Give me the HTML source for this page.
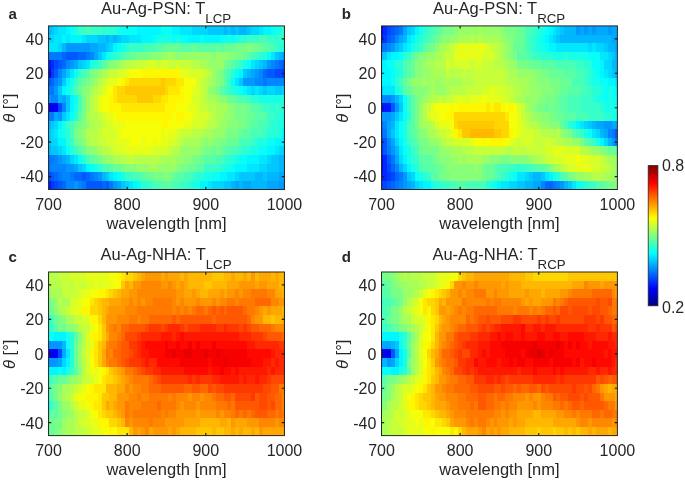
<!DOCTYPE html>
<html><head><meta charset="utf-8"><title>figure</title>
<style>
html,body{margin:0;padding:0;background:#fff;}
body{width:685px;height:481px;overflow:hidden;}
svg{display:block;font-family:"Liberation Sans",sans-serif;}
svg text{fill:#262626;}
svg{will-change:transform;}
.h rect{height:8.66px;}
</style></head><body>
<svg width="685" height="481" viewBox="0 0 685 481">
<g class="h" shape-rendering="crispEdges"><g transform="translate(0,25.90)"><rect x="48.55" width="2.02" fill="#00b7ff"/><rect x="50.52" width="3.98" fill="#00c7ff"/><rect x="54.45" width="3.98" fill="#00d7ff"/><rect x="58.38" width="7.91" fill="#00e7ff"/><rect x="66.24" width="3.98" fill="#00f7ff"/><rect x="70.17" width="3.98" fill="#08fff7"/><rect x="74.11" width="3.98" fill="#18ffe7"/><rect x="78.04" width="7.91" fill="#38ffc7"/><rect x="85.90" width="3.98" fill="#48ffb7"/><rect x="89.83" width="11.85" fill="#38ffc7"/><rect x="101.63" width="3.98" fill="#28ffd7"/><rect x="105.56" width="3.98" fill="#38ffc7"/><rect x="109.49" width="7.91" fill="#28ffd7"/><rect x="117.35" width="3.98" fill="#18ffe7"/><rect x="121.29" width="15.78" fill="#08fff7"/><rect x="137.01" width="23.64" fill="#00f7ff"/><rect x="160.60" width="11.84" fill="#08fff7"/><rect x="172.40" width="7.91" fill="#00f7ff"/><rect x="180.26" width="11.85" fill="#00e7ff"/><rect x="192.06" width="15.78" fill="#00d7ff"/><rect x="207.78" width="15.78" fill="#00c7ff"/><rect x="223.51" width="3.98" fill="#00b7ff"/><rect x="227.44" width="3.98" fill="#00c7ff"/><rect x="231.37" width="3.98" fill="#00b7ff"/><rect x="235.30" width="3.98" fill="#00c7ff"/><rect x="239.24" width="7.91" fill="#00b7ff"/><rect x="247.10" width="3.98" fill="#00c7ff"/><rect x="251.03" width="7.91" fill="#00d7ff"/><rect x="258.89" width="3.98" fill="#00e7ff"/><rect x="262.83" width="7.91" fill="#00f7ff"/><rect x="270.69" width="3.98" fill="#08fff7"/><rect x="274.62" width="7.91" fill="#18ffe7"/><rect x="282.48" width="2.02" fill="#38ffc7"/></g>
<g transform="translate(0,34.51)"><rect x="48.55" width="5.95" fill="#00d7ff"/><rect x="54.45" width="7.91" fill="#00e7ff"/><rect x="62.31" width="3.98" fill="#00f7ff"/><rect x="66.24" width="3.98" fill="#00e7ff"/><rect x="70.17" width="11.85" fill="#00f7ff"/><rect x="81.97" width="3.98" fill="#00e7ff"/><rect x="85.90" width="11.84" fill="#00d7ff"/><rect x="97.70" width="7.91" fill="#00c7ff"/><rect x="105.56" width="3.98" fill="#00b7ff"/><rect x="109.49" width="3.98" fill="#00c7ff"/><rect x="113.42" width="3.98" fill="#00b7ff"/><rect x="117.35" width="3.98" fill="#00c7ff"/><rect x="121.29" width="7.91" fill="#00d7ff"/><rect x="129.15" width="11.85" fill="#00e7ff"/><rect x="140.94" width="11.85" fill="#00f7ff"/><rect x="152.74" width="3.98" fill="#08fff7"/><rect x="156.67" width="15.78" fill="#18ffe7"/><rect x="172.40" width="3.98" fill="#08fff7"/><rect x="176.33" width="3.98" fill="#18ffe7"/><rect x="180.26" width="7.91" fill="#08fff7"/><rect x="188.12" width="11.85" fill="#00f7ff"/><rect x="199.92" width="3.98" fill="#08fff7"/><rect x="203.85" width="15.78" fill="#00f7ff"/><rect x="219.58" width="7.91" fill="#08fff7"/><rect x="227.44" width="3.98" fill="#18ffe7"/><rect x="231.37" width="3.98" fill="#08fff7"/><rect x="235.30" width="3.98" fill="#18ffe7"/><rect x="239.24" width="7.91" fill="#28ffd7"/><rect x="247.10" width="11.84" fill="#38ffc7"/><rect x="258.89" width="7.91" fill="#48ffb7"/><rect x="266.76" width="7.91" fill="#38ffc7"/><rect x="274.62" width="3.98" fill="#28ffd7"/><rect x="278.55" width="5.95" fill="#38ffc7"/></g>
<g transform="translate(0,43.12)"><rect x="48.55" width="9.88" fill="#00e7ff"/><rect x="58.38" width="3.98" fill="#00d7ff"/><rect x="62.31" width="3.98" fill="#00b7ff"/><rect x="66.24" width="23.64" fill="#0097ff"/><rect x="89.83" width="7.91" fill="#00a7ff"/><rect x="97.70" width="7.91" fill="#00b7ff"/><rect x="105.56" width="3.98" fill="#00c7ff"/><rect x="109.49" width="3.98" fill="#00d7ff"/><rect x="113.42" width="3.98" fill="#00f7ff"/><rect x="117.35" width="3.98" fill="#08fff7"/><rect x="121.29" width="3.98" fill="#18ffe7"/><rect x="125.22" width="3.98" fill="#28ffd7"/><rect x="129.15" width="15.78" fill="#38ffc7"/><rect x="144.88" width="11.85" fill="#48ffb7"/><rect x="156.67" width="7.91" fill="#58ffa7"/><rect x="164.53" width="15.78" fill="#68ff97"/><rect x="180.26" width="11.85" fill="#58ffa7"/><rect x="192.06" width="3.98" fill="#68ff97"/><rect x="195.99" width="19.71" fill="#58ffa7"/><rect x="215.65" width="3.98" fill="#68ff97"/><rect x="219.58" width="3.98" fill="#58ffa7"/><rect x="223.51" width="11.85" fill="#68ff97"/><rect x="235.30" width="11.85" fill="#78ff87"/><rect x="247.10" width="3.98" fill="#87ff78"/><rect x="251.03" width="7.91" fill="#78ff87"/><rect x="258.89" width="3.98" fill="#68ff97"/><rect x="262.83" width="7.91" fill="#58ffa7"/><rect x="270.69" width="3.98" fill="#48ffb7"/><rect x="274.62" width="3.98" fill="#38ffc7"/><rect x="278.55" width="3.98" fill="#28ffd7"/><rect x="282.48" width="2.02" fill="#18ffe7"/></g>
<g transform="translate(0,51.73)"><rect x="48.55" width="13.81" fill="#0078ff"/><rect x="62.31" width="3.98" fill="#0068ff"/><rect x="66.24" width="11.85" fill="#0058ff"/><rect x="78.04" width="7.91" fill="#0068ff"/><rect x="85.90" width="3.98" fill="#0078ff"/><rect x="89.83" width="3.98" fill="#0087ff"/><rect x="93.76" width="3.98" fill="#00a7ff"/><rect x="97.70" width="3.98" fill="#00c7ff"/><rect x="101.63" width="3.98" fill="#00e7ff"/><rect x="105.56" width="3.98" fill="#08fff7"/><rect x="109.49" width="3.98" fill="#18ffe7"/><rect x="113.42" width="3.98" fill="#28ffd7"/><rect x="117.35" width="3.98" fill="#38ffc7"/><rect x="121.29" width="3.98" fill="#48ffb7"/><rect x="125.22" width="3.98" fill="#58ffa7"/><rect x="129.15" width="7.91" fill="#68ff97"/><rect x="137.01" width="11.85" fill="#78ff87"/><rect x="148.81" width="11.84" fill="#87ff78"/><rect x="160.60" width="7.91" fill="#97ff68"/><rect x="168.47" width="3.98" fill="#a7ff58"/><rect x="172.40" width="3.98" fill="#97ff68"/><rect x="176.33" width="3.98" fill="#87ff78"/><rect x="180.26" width="31.50" fill="#97ff68"/><rect x="211.71" width="3.98" fill="#87ff78"/><rect x="215.65" width="11.85" fill="#97ff68"/><rect x="227.44" width="7.91" fill="#87ff78"/><rect x="235.30" width="7.91" fill="#78ff87"/><rect x="243.17" width="3.98" fill="#68ff97"/><rect x="247.10" width="3.98" fill="#58ffa7"/><rect x="251.03" width="3.98" fill="#48ffb7"/><rect x="254.96" width="3.98" fill="#38ffc7"/><rect x="258.89" width="7.91" fill="#28ffd7"/><rect x="266.76" width="3.98" fill="#08fff7"/><rect x="270.69" width="3.98" fill="#00e7ff"/><rect x="274.62" width="3.98" fill="#00c7ff"/><rect x="278.55" width="3.98" fill="#00b7ff"/><rect x="282.48" width="2.02" fill="#00a7ff"/></g>
<g transform="translate(0,60.34)"><rect x="48.55" width="2.02" fill="#0018ff"/><rect x="50.52" width="3.98" fill="#0028ff"/><rect x="54.45" width="3.98" fill="#0048ff"/><rect x="58.38" width="3.98" fill="#0058ff"/><rect x="62.31" width="3.98" fill="#0068ff"/><rect x="66.24" width="3.98" fill="#0087ff"/><rect x="70.17" width="3.98" fill="#0097ff"/><rect x="74.11" width="3.98" fill="#00a7ff"/><rect x="78.04" width="3.98" fill="#00c7ff"/><rect x="81.97" width="3.98" fill="#00d7ff"/><rect x="85.90" width="3.98" fill="#00e7ff"/><rect x="89.83" width="3.98" fill="#18ffe7"/><rect x="93.76" width="3.98" fill="#28ffd7"/><rect x="97.70" width="3.98" fill="#38ffc7"/><rect x="101.63" width="3.98" fill="#58ffa7"/><rect x="105.56" width="3.98" fill="#68ff97"/><rect x="109.49" width="7.91" fill="#87ff78"/><rect x="117.35" width="3.98" fill="#97ff68"/><rect x="121.29" width="3.98" fill="#a7ff58"/><rect x="125.22" width="7.91" fill="#b7ff48"/><rect x="133.08" width="11.85" fill="#c7ff38"/><rect x="144.88" width="11.85" fill="#d7ff28"/><rect x="156.67" width="3.98" fill="#c7ff38"/><rect x="160.60" width="7.91" fill="#d7ff28"/><rect x="168.47" width="7.91" fill="#c7ff38"/><rect x="176.33" width="3.98" fill="#d7ff28"/><rect x="180.26" width="11.85" fill="#c7ff38"/><rect x="192.06" width="7.91" fill="#b7ff48"/><rect x="199.92" width="7.91" fill="#a7ff58"/><rect x="207.78" width="15.78" fill="#97ff68"/><rect x="223.51" width="3.98" fill="#78ff87"/><rect x="227.44" width="3.98" fill="#68ff97"/><rect x="231.37" width="3.98" fill="#58ffa7"/><rect x="235.30" width="3.98" fill="#48ffb7"/><rect x="239.24" width="3.98" fill="#38ffc7"/><rect x="243.17" width="3.98" fill="#18ffe7"/><rect x="247.10" width="3.98" fill="#08fff7"/><rect x="251.03" width="3.98" fill="#00e7ff"/><rect x="254.96" width="3.98" fill="#00d7ff"/><rect x="258.89" width="3.98" fill="#00c7ff"/><rect x="262.83" width="3.98" fill="#00b7ff"/><rect x="266.76" width="3.98" fill="#0097ff"/><rect x="270.69" width="3.98" fill="#0087ff"/><rect x="274.62" width="3.98" fill="#0078ff"/><rect x="278.55" width="3.98" fill="#0068ff"/><rect x="282.48" width="2.02" fill="#0058ff"/></g>
<g transform="translate(0,68.95)"><rect x="48.55" width="2.02" fill="#0008ff"/><rect x="50.52" width="3.98" fill="#0038ff"/><rect x="54.45" width="3.98" fill="#0058ff"/><rect x="58.38" width="3.98" fill="#0087ff"/><rect x="62.31" width="3.98" fill="#00a7ff"/><rect x="66.24" width="3.98" fill="#00c7ff"/><rect x="70.17" width="3.98" fill="#00e7ff"/><rect x="74.11" width="3.98" fill="#08fff7"/><rect x="78.04" width="3.98" fill="#38ffc7"/><rect x="81.97" width="3.98" fill="#48ffb7"/><rect x="85.90" width="3.98" fill="#58ffa7"/><rect x="89.83" width="3.98" fill="#78ff87"/><rect x="93.76" width="3.98" fill="#87ff78"/><rect x="97.70" width="3.98" fill="#97ff68"/><rect x="101.63" width="3.98" fill="#a7ff58"/><rect x="105.56" width="3.98" fill="#b7ff48"/><rect x="109.49" width="7.91" fill="#c7ff38"/><rect x="117.35" width="7.91" fill="#d7ff28"/><rect x="125.22" width="3.98" fill="#e7ff18"/><rect x="129.15" width="11.85" fill="#f7ff08"/><rect x="140.94" width="39.37" fill="#fff700"/><rect x="180.26" width="7.91" fill="#e7ff18"/><rect x="188.12" width="15.78" fill="#d7ff28"/><rect x="203.85" width="3.98" fill="#c7ff38"/><rect x="207.78" width="3.98" fill="#b7ff48"/><rect x="211.71" width="3.98" fill="#97ff68"/><rect x="215.65" width="3.98" fill="#87ff78"/><rect x="219.58" width="3.98" fill="#78ff87"/><rect x="223.51" width="3.98" fill="#58ffa7"/><rect x="227.44" width="3.98" fill="#48ffb7"/><rect x="231.37" width="3.98" fill="#28ffd7"/><rect x="235.30" width="3.98" fill="#08fff7"/><rect x="239.24" width="3.98" fill="#00f7ff"/><rect x="243.17" width="3.98" fill="#00c7ff"/><rect x="247.10" width="3.98" fill="#00b7ff"/><rect x="251.03" width="3.98" fill="#00a7ff"/><rect x="254.96" width="3.98" fill="#0097ff"/><rect x="258.89" width="3.98" fill="#0087ff"/><rect x="262.83" width="3.98" fill="#0068ff"/><rect x="266.76" width="7.91" fill="#0058ff"/><rect x="274.62" width="7.91" fill="#0048ff"/><rect x="282.48" width="2.02" fill="#0038ff"/></g>
<g transform="translate(0,77.56)"><rect x="48.55" width="2.02" fill="#0058ff"/><rect x="50.52" width="3.98" fill="#0068ff"/><rect x="54.45" width="3.98" fill="#0087ff"/><rect x="58.38" width="3.98" fill="#0097ff"/><rect x="62.31" width="3.98" fill="#00c7ff"/><rect x="66.24" width="3.98" fill="#00f7ff"/><rect x="70.17" width="3.98" fill="#18ffe7"/><rect x="74.11" width="3.98" fill="#38ffc7"/><rect x="78.04" width="3.98" fill="#58ffa7"/><rect x="81.97" width="3.98" fill="#68ff97"/><rect x="85.90" width="3.98" fill="#78ff87"/><rect x="89.83" width="3.98" fill="#87ff78"/><rect x="93.76" width="3.98" fill="#97ff68"/><rect x="97.70" width="3.98" fill="#b7ff48"/><rect x="101.63" width="3.98" fill="#c7ff38"/><rect x="105.56" width="3.98" fill="#d7ff28"/><rect x="109.49" width="7.91" fill="#e7ff18"/><rect x="117.35" width="3.98" fill="#f7ff08"/><rect x="121.29" width="3.98" fill="#fff700"/><rect x="125.22" width="3.98" fill="#ffe700"/><rect x="129.15" width="31.50" fill="#ffd700"/><rect x="160.60" width="3.98" fill="#ffc700"/><rect x="164.53" width="11.84" fill="#ffd700"/><rect x="176.33" width="7.91" fill="#ffe700"/><rect x="184.19" width="11.85" fill="#f7ff08"/><rect x="195.99" width="3.98" fill="#d7ff28"/><rect x="199.92" width="3.98" fill="#c7ff38"/><rect x="203.85" width="3.98" fill="#b7ff48"/><rect x="207.78" width="3.98" fill="#a7ff58"/><rect x="211.71" width="3.98" fill="#97ff68"/><rect x="215.65" width="3.98" fill="#87ff78"/><rect x="219.58" width="3.98" fill="#78ff87"/><rect x="223.51" width="3.98" fill="#58ffa7"/><rect x="227.44" width="3.98" fill="#38ffc7"/><rect x="231.37" width="3.98" fill="#08fff7"/><rect x="235.30" width="3.98" fill="#00e7ff"/><rect x="239.24" width="3.98" fill="#00c7ff"/><rect x="243.17" width="11.84" fill="#0097ff"/><rect x="254.96" width="7.91" fill="#0087ff"/><rect x="262.83" width="3.98" fill="#0078ff"/><rect x="266.76" width="17.74" fill="#0087ff"/></g>
<g transform="translate(0,86.17)"><rect x="48.55" width="5.95" fill="#0078ff"/><rect x="54.45" width="3.98" fill="#0097ff"/><rect x="58.38" width="3.98" fill="#00c7ff"/><rect x="62.31" width="3.98" fill="#00f7ff"/><rect x="66.24" width="3.98" fill="#08fff7"/><rect x="70.17" width="3.98" fill="#28ffd7"/><rect x="74.11" width="3.98" fill="#48ffb7"/><rect x="78.04" width="3.98" fill="#68ff97"/><rect x="81.97" width="7.91" fill="#87ff78"/><rect x="89.83" width="3.98" fill="#a7ff58"/><rect x="93.76" width="3.98" fill="#b7ff48"/><rect x="97.70" width="3.98" fill="#c7ff38"/><rect x="101.63" width="3.98" fill="#d7ff28"/><rect x="105.56" width="7.91" fill="#f7ff08"/><rect x="113.42" width="3.98" fill="#ffe700"/><rect x="117.35" width="7.91" fill="#ffd700"/><rect x="125.22" width="39.37" fill="#ffc700"/><rect x="164.53" width="3.98" fill="#ffd700"/><rect x="168.47" width="11.84" fill="#ffe700"/><rect x="180.26" width="3.98" fill="#fff700"/><rect x="184.19" width="7.91" fill="#f7ff08"/><rect x="192.06" width="3.98" fill="#e7ff18"/><rect x="195.99" width="3.98" fill="#d7ff28"/><rect x="199.92" width="3.98" fill="#c7ff38"/><rect x="203.85" width="3.98" fill="#b7ff48"/><rect x="207.78" width="3.98" fill="#97ff68"/><rect x="211.71" width="3.98" fill="#87ff78"/><rect x="215.65" width="3.98" fill="#78ff87"/><rect x="219.58" width="3.98" fill="#58ffa7"/><rect x="223.51" width="3.98" fill="#48ffb7"/><rect x="227.44" width="3.98" fill="#38ffc7"/><rect x="231.37" width="3.98" fill="#28ffd7"/><rect x="235.30" width="3.98" fill="#18ffe7"/><rect x="239.24" width="3.98" fill="#08fff7"/><rect x="243.17" width="3.98" fill="#00f7ff"/><rect x="247.10" width="3.98" fill="#00e7ff"/><rect x="251.03" width="3.98" fill="#00d7ff"/><rect x="254.96" width="3.98" fill="#00e7ff"/><rect x="258.89" width="3.98" fill="#00d7ff"/><rect x="262.83" width="3.98" fill="#00c7ff"/><rect x="266.76" width="7.91" fill="#00d7ff"/><rect x="274.62" width="7.91" fill="#00c7ff"/><rect x="282.48" width="2.02" fill="#00d7ff"/></g>
<g transform="translate(0,94.78)"><rect x="48.55" width="2.02" fill="#0097ff"/><rect x="50.52" width="7.91" fill="#0087ff"/><rect x="58.38" width="3.98" fill="#00b7ff"/><rect x="62.31" width="3.98" fill="#00a7ff"/><rect x="66.24" width="3.98" fill="#00c7ff"/><rect x="70.17" width="3.98" fill="#00f7ff"/><rect x="74.11" width="3.98" fill="#08fff7"/><rect x="78.04" width="3.98" fill="#48ffb7"/><rect x="81.97" width="3.98" fill="#78ff87"/><rect x="85.90" width="3.98" fill="#97ff68"/><rect x="89.83" width="3.98" fill="#b7ff48"/><rect x="93.76" width="3.98" fill="#c7ff38"/><rect x="97.70" width="3.98" fill="#e7ff18"/><rect x="101.63" width="7.91" fill="#f7ff08"/><rect x="109.49" width="3.98" fill="#fff700"/><rect x="113.42" width="3.98" fill="#ffe700"/><rect x="117.35" width="19.71" fill="#ffd700"/><rect x="137.01" width="15.78" fill="#ffc700"/><rect x="152.74" width="7.91" fill="#ffd700"/><rect x="160.60" width="7.91" fill="#ffe700"/><rect x="168.47" width="15.78" fill="#fff700"/><rect x="184.19" width="7.91" fill="#f7ff08"/><rect x="192.06" width="7.91" fill="#d7ff28"/><rect x="199.92" width="3.98" fill="#c7ff38"/><rect x="203.85" width="3.98" fill="#b7ff48"/><rect x="207.78" width="7.91" fill="#a7ff58"/><rect x="215.65" width="3.98" fill="#97ff68"/><rect x="219.58" width="7.91" fill="#87ff78"/><rect x="227.44" width="7.91" fill="#68ff97"/><rect x="235.30" width="3.98" fill="#58ffa7"/><rect x="239.24" width="7.91" fill="#48ffb7"/><rect x="247.10" width="3.98" fill="#38ffc7"/><rect x="251.03" width="7.91" fill="#28ffd7"/><rect x="258.89" width="23.64" fill="#18ffe7"/><rect x="282.48" width="2.02" fill="#28ffd7"/></g>
<g transform="translate(0,103.39)"><rect x="48.55" width="9.88" fill="#0000f7"/><rect x="58.38" width="3.98" fill="#0048ff"/><rect x="62.31" width="3.98" fill="#0087ff"/><rect x="66.24" width="3.98" fill="#00c7ff"/><rect x="70.17" width="3.98" fill="#00f7ff"/><rect x="74.11" width="3.98" fill="#18ffe7"/><rect x="78.04" width="3.98" fill="#48ffb7"/><rect x="81.97" width="3.98" fill="#78ff87"/><rect x="85.90" width="3.98" fill="#97ff68"/><rect x="89.83" width="3.98" fill="#b7ff48"/><rect x="93.76" width="3.98" fill="#c7ff38"/><rect x="97.70" width="3.98" fill="#e7ff18"/><rect x="101.63" width="7.91" fill="#f7ff08"/><rect x="109.49" width="11.85" fill="#fff700"/><rect x="121.29" width="43.30" fill="#ffe700"/><rect x="164.53" width="11.84" fill="#fff700"/><rect x="176.33" width="11.85" fill="#f7ff08"/><rect x="188.12" width="7.91" fill="#e7ff18"/><rect x="195.99" width="3.98" fill="#d7ff28"/><rect x="199.92" width="7.91" fill="#c7ff38"/><rect x="207.78" width="7.91" fill="#b7ff48"/><rect x="215.65" width="11.85" fill="#a7ff58"/><rect x="227.44" width="3.98" fill="#97ff68"/><rect x="231.37" width="3.98" fill="#87ff78"/><rect x="235.30" width="11.85" fill="#78ff87"/><rect x="247.10" width="3.98" fill="#68ff97"/><rect x="251.03" width="7.91" fill="#58ffa7"/><rect x="258.89" width="3.98" fill="#48ffb7"/><rect x="262.83" width="7.91" fill="#38ffc7"/><rect x="270.69" width="3.98" fill="#28ffd7"/><rect x="274.62" width="3.98" fill="#38ffc7"/><rect x="278.55" width="5.95" fill="#28ffd7"/></g>
<g transform="translate(0,112.01)"><rect x="48.55" width="5.95" fill="#0078ff"/><rect x="54.45" width="3.98" fill="#00a7ff"/><rect x="58.38" width="3.98" fill="#0097ff"/><rect x="62.31" width="3.98" fill="#00c7ff"/><rect x="66.24" width="3.98" fill="#00e7ff"/><rect x="70.17" width="3.98" fill="#08fff7"/><rect x="74.11" width="3.98" fill="#28ffd7"/><rect x="78.04" width="3.98" fill="#58ffa7"/><rect x="81.97" width="3.98" fill="#78ff87"/><rect x="85.90" width="3.98" fill="#a7ff58"/><rect x="89.83" width="7.91" fill="#b7ff48"/><rect x="97.70" width="3.98" fill="#c7ff38"/><rect x="101.63" width="3.98" fill="#d7ff28"/><rect x="105.56" width="7.91" fill="#e7ff18"/><rect x="113.42" width="3.98" fill="#f7ff08"/><rect x="117.35" width="55.09" fill="#fff700"/><rect x="172.40" width="3.98" fill="#f7ff08"/><rect x="176.33" width="7.91" fill="#fff700"/><rect x="184.19" width="7.91" fill="#f7ff08"/><rect x="192.06" width="3.98" fill="#e7ff18"/><rect x="195.99" width="11.84" fill="#d7ff28"/><rect x="207.78" width="3.98" fill="#c7ff38"/><rect x="211.71" width="3.98" fill="#b7ff48"/><rect x="215.65" width="7.91" fill="#a7ff58"/><rect x="223.51" width="7.91" fill="#97ff68"/><rect x="231.37" width="3.98" fill="#87ff78"/><rect x="235.30" width="11.85" fill="#78ff87"/><rect x="247.10" width="7.91" fill="#68ff97"/><rect x="254.96" width="11.85" fill="#58ffa7"/><rect x="266.76" width="7.91" fill="#38ffc7"/><rect x="274.62" width="7.91" fill="#28ffd7"/><rect x="282.48" width="2.02" fill="#18ffe7"/></g>
<g transform="translate(0,120.62)"><rect x="48.55" width="2.02" fill="#00b7ff"/><rect x="50.52" width="3.98" fill="#00c7ff"/><rect x="54.45" width="3.98" fill="#00d7ff"/><rect x="58.38" width="3.98" fill="#00f7ff"/><rect x="62.31" width="3.98" fill="#18ffe7"/><rect x="66.24" width="3.98" fill="#38ffc7"/><rect x="70.17" width="3.98" fill="#48ffb7"/><rect x="74.11" width="3.98" fill="#68ff97"/><rect x="78.04" width="3.98" fill="#78ff87"/><rect x="81.97" width="3.98" fill="#87ff78"/><rect x="85.90" width="3.98" fill="#97ff68"/><rect x="89.83" width="3.98" fill="#a7ff58"/><rect x="93.76" width="7.91" fill="#b7ff48"/><rect x="101.63" width="3.98" fill="#c7ff38"/><rect x="105.56" width="7.91" fill="#d7ff28"/><rect x="113.42" width="11.85" fill="#e7ff18"/><rect x="125.22" width="35.43" fill="#f7ff08"/><rect x="160.60" width="7.91" fill="#fff700"/><rect x="168.47" width="15.78" fill="#f7ff08"/><rect x="184.19" width="7.91" fill="#e7ff18"/><rect x="192.06" width="11.85" fill="#d7ff28"/><rect x="203.85" width="3.98" fill="#c7ff38"/><rect x="207.78" width="7.91" fill="#b7ff48"/><rect x="215.65" width="3.98" fill="#a7ff58"/><rect x="219.58" width="7.91" fill="#97ff68"/><rect x="227.44" width="11.85" fill="#87ff78"/><rect x="239.24" width="7.91" fill="#78ff87"/><rect x="247.10" width="3.98" fill="#68ff97"/><rect x="251.03" width="7.91" fill="#58ffa7"/><rect x="258.89" width="7.91" fill="#48ffb7"/><rect x="266.76" width="3.98" fill="#38ffc7"/><rect x="270.69" width="7.91" fill="#28ffd7"/><rect x="278.55" width="5.95" fill="#18ffe7"/></g>
<g transform="translate(0,129.23)"><rect x="48.55" width="2.02" fill="#00c7ff"/><rect x="50.52" width="3.98" fill="#00d7ff"/><rect x="54.45" width="3.98" fill="#00e7ff"/><rect x="58.38" width="3.98" fill="#08fff7"/><rect x="62.31" width="3.98" fill="#18ffe7"/><rect x="66.24" width="3.98" fill="#28ffd7"/><rect x="70.17" width="3.98" fill="#48ffb7"/><rect x="74.11" width="3.98" fill="#78ff87"/><rect x="78.04" width="3.98" fill="#87ff78"/><rect x="81.97" width="3.98" fill="#97ff68"/><rect x="85.90" width="11.84" fill="#b7ff48"/><rect x="97.70" width="3.98" fill="#c7ff38"/><rect x="101.63" width="15.78" fill="#d7ff28"/><rect x="117.35" width="3.98" fill="#e7ff18"/><rect x="121.29" width="39.37" fill="#f7ff08"/><rect x="160.60" width="3.98" fill="#e7ff18"/><rect x="164.53" width="3.98" fill="#f7ff08"/><rect x="168.47" width="7.91" fill="#e7ff18"/><rect x="176.33" width="3.98" fill="#d7ff28"/><rect x="180.26" width="11.85" fill="#c7ff38"/><rect x="192.06" width="11.85" fill="#b7ff48"/><rect x="203.85" width="7.91" fill="#a7ff58"/><rect x="211.71" width="11.85" fill="#97ff68"/><rect x="223.51" width="3.98" fill="#87ff78"/><rect x="227.44" width="11.85" fill="#78ff87"/><rect x="239.24" width="3.98" fill="#68ff97"/><rect x="243.17" width="7.91" fill="#58ffa7"/><rect x="251.03" width="11.85" fill="#48ffb7"/><rect x="262.83" width="3.98" fill="#38ffc7"/><rect x="266.76" width="11.85" fill="#28ffd7"/><rect x="278.55" width="3.98" fill="#18ffe7"/><rect x="282.48" width="2.02" fill="#00f7ff"/></g>
<g transform="translate(0,137.84)"><rect x="48.55" width="2.02" fill="#00c7ff"/><rect x="50.52" width="7.91" fill="#00d7ff"/><rect x="58.38" width="7.91" fill="#00f7ff"/><rect x="66.24" width="3.98" fill="#28ffd7"/><rect x="70.17" width="3.98" fill="#38ffc7"/><rect x="74.11" width="3.98" fill="#68ff97"/><rect x="78.04" width="3.98" fill="#78ff87"/><rect x="81.97" width="3.98" fill="#87ff78"/><rect x="85.90" width="3.98" fill="#a7ff58"/><rect x="89.83" width="7.91" fill="#b7ff48"/><rect x="97.70" width="7.91" fill="#c7ff38"/><rect x="105.56" width="11.84" fill="#d7ff28"/><rect x="117.35" width="11.84" fill="#e7ff18"/><rect x="129.15" width="11.85" fill="#f7ff08"/><rect x="140.94" width="3.98" fill="#e7ff18"/><rect x="144.88" width="7.91" fill="#f7ff08"/><rect x="152.74" width="3.98" fill="#e7ff18"/><rect x="156.67" width="3.98" fill="#f7ff08"/><rect x="160.60" width="7.91" fill="#e7ff18"/><rect x="168.47" width="7.91" fill="#d7ff28"/><rect x="176.33" width="3.98" fill="#c7ff38"/><rect x="180.26" width="3.98" fill="#b7ff48"/><rect x="184.19" width="15.78" fill="#a7ff58"/><rect x="199.92" width="3.98" fill="#97ff68"/><rect x="203.85" width="3.98" fill="#87ff78"/><rect x="207.78" width="3.98" fill="#97ff68"/><rect x="211.71" width="7.91" fill="#87ff78"/><rect x="219.58" width="7.91" fill="#78ff87"/><rect x="227.44" width="11.85" fill="#68ff97"/><rect x="239.24" width="11.84" fill="#48ffb7"/><rect x="251.03" width="3.98" fill="#38ffc7"/><rect x="254.96" width="3.98" fill="#28ffd7"/><rect x="258.89" width="3.98" fill="#18ffe7"/><rect x="262.83" width="3.98" fill="#28ffd7"/><rect x="266.76" width="7.91" fill="#08fff7"/><rect x="274.62" width="9.88" fill="#00f7ff"/></g>
<g transform="translate(0,146.45)"><rect x="48.55" width="2.02" fill="#00b7ff"/><rect x="50.52" width="7.91" fill="#00c7ff"/><rect x="58.38" width="3.98" fill="#00d7ff"/><rect x="62.31" width="3.98" fill="#00e7ff"/><rect x="66.24" width="3.98" fill="#08fff7"/><rect x="70.17" width="3.98" fill="#28ffd7"/><rect x="74.11" width="3.98" fill="#38ffc7"/><rect x="78.04" width="3.98" fill="#58ffa7"/><rect x="81.97" width="3.98" fill="#68ff97"/><rect x="85.90" width="7.91" fill="#87ff78"/><rect x="93.76" width="3.98" fill="#97ff68"/><rect x="97.70" width="3.98" fill="#a7ff58"/><rect x="101.63" width="7.91" fill="#b7ff48"/><rect x="109.49" width="3.98" fill="#c7ff38"/><rect x="113.42" width="11.85" fill="#d7ff28"/><rect x="125.22" width="27.57" fill="#e7ff18"/><rect x="152.74" width="15.78" fill="#d7ff28"/><rect x="168.47" width="3.98" fill="#c7ff38"/><rect x="172.40" width="7.91" fill="#b7ff48"/><rect x="180.26" width="19.71" fill="#97ff68"/><rect x="199.92" width="3.98" fill="#87ff78"/><rect x="203.85" width="7.91" fill="#78ff87"/><rect x="211.71" width="3.98" fill="#68ff97"/><rect x="215.65" width="3.98" fill="#78ff87"/><rect x="219.58" width="3.98" fill="#68ff97"/><rect x="223.51" width="7.91" fill="#58ffa7"/><rect x="231.37" width="7.91" fill="#48ffb7"/><rect x="239.24" width="3.98" fill="#38ffc7"/><rect x="243.17" width="7.91" fill="#28ffd7"/><rect x="251.03" width="7.91" fill="#18ffe7"/><rect x="258.89" width="7.91" fill="#08fff7"/><rect x="266.76" width="7.91" fill="#00f7ff"/><rect x="274.62" width="3.98" fill="#00e7ff"/><rect x="278.55" width="5.95" fill="#00d7ff"/></g>
<g transform="translate(0,155.06)"><rect x="48.55" width="5.95" fill="#0078ff"/><rect x="54.45" width="3.98" fill="#0087ff"/><rect x="58.38" width="3.98" fill="#0097ff"/><rect x="62.31" width="3.98" fill="#00a7ff"/><rect x="66.24" width="3.98" fill="#00b7ff"/><rect x="70.17" width="3.98" fill="#00d7ff"/><rect x="74.11" width="3.98" fill="#00e7ff"/><rect x="78.04" width="3.98" fill="#08fff7"/><rect x="81.97" width="3.98" fill="#28ffd7"/><rect x="85.90" width="3.98" fill="#48ffb7"/><rect x="89.83" width="3.98" fill="#58ffa7"/><rect x="93.76" width="3.98" fill="#68ff97"/><rect x="97.70" width="3.98" fill="#78ff87"/><rect x="101.63" width="3.98" fill="#87ff78"/><rect x="105.56" width="7.91" fill="#97ff68"/><rect x="113.42" width="7.91" fill="#a7ff58"/><rect x="121.29" width="7.91" fill="#b7ff48"/><rect x="129.15" width="3.98" fill="#c7ff38"/><rect x="133.08" width="27.57" fill="#b7ff48"/><rect x="160.60" width="15.78" fill="#a7ff58"/><rect x="176.33" width="7.91" fill="#97ff68"/><rect x="184.19" width="7.91" fill="#87ff78"/><rect x="192.06" width="7.91" fill="#78ff87"/><rect x="199.92" width="3.98" fill="#68ff97"/><rect x="203.85" width="11.84" fill="#58ffa7"/><rect x="215.65" width="7.91" fill="#48ffb7"/><rect x="223.51" width="3.98" fill="#38ffc7"/><rect x="227.44" width="7.91" fill="#28ffd7"/><rect x="235.30" width="3.98" fill="#18ffe7"/><rect x="239.24" width="7.91" fill="#08fff7"/><rect x="247.10" width="11.84" fill="#00f7ff"/><rect x="258.89" width="7.91" fill="#00e7ff"/><rect x="266.76" width="3.98" fill="#00d7ff"/><rect x="270.69" width="7.91" fill="#00c7ff"/><rect x="278.55" width="5.95" fill="#00b7ff"/></g>
<g transform="translate(0,163.67)"><rect x="48.55" width="2.02" fill="#0078ff"/><rect x="50.52" width="15.78" fill="#0087ff"/><rect x="66.24" width="7.91" fill="#0097ff"/><rect x="74.11" width="3.98" fill="#00a7ff"/><rect x="78.04" width="3.98" fill="#00c7ff"/><rect x="81.97" width="3.98" fill="#00d7ff"/><rect x="85.90" width="3.98" fill="#00f7ff"/><rect x="89.83" width="3.98" fill="#08fff7"/><rect x="93.76" width="3.98" fill="#18ffe7"/><rect x="97.70" width="3.98" fill="#28ffd7"/><rect x="101.63" width="7.91" fill="#48ffb7"/><rect x="109.49" width="3.98" fill="#58ffa7"/><rect x="113.42" width="7.91" fill="#68ff97"/><rect x="121.29" width="3.98" fill="#78ff87"/><rect x="125.22" width="11.84" fill="#87ff78"/><rect x="137.01" width="11.85" fill="#97ff68"/><rect x="148.81" width="7.91" fill="#a7ff58"/><rect x="156.67" width="19.71" fill="#97ff68"/><rect x="176.33" width="3.98" fill="#87ff78"/><rect x="180.26" width="7.91" fill="#78ff87"/><rect x="188.12" width="7.91" fill="#68ff97"/><rect x="195.99" width="7.91" fill="#58ffa7"/><rect x="203.85" width="15.78" fill="#38ffc7"/><rect x="219.58" width="3.98" fill="#28ffd7"/><rect x="223.51" width="7.91" fill="#18ffe7"/><rect x="231.37" width="3.98" fill="#08fff7"/><rect x="235.30" width="11.85" fill="#00f7ff"/><rect x="247.10" width="11.84" fill="#00e7ff"/><rect x="258.89" width="7.91" fill="#00d7ff"/><rect x="266.76" width="11.85" fill="#00c7ff"/><rect x="278.55" width="5.95" fill="#00b7ff"/></g>
<g transform="translate(0,172.28)"><rect x="48.55" width="2.02" fill="#0048ff"/><rect x="50.52" width="3.98" fill="#0058ff"/><rect x="54.45" width="3.98" fill="#0068ff"/><rect x="58.38" width="3.98" fill="#0078ff"/><rect x="62.31" width="7.91" fill="#0087ff"/><rect x="70.17" width="3.98" fill="#0078ff"/><rect x="74.11" width="7.91" fill="#0068ff"/><rect x="81.97" width="3.98" fill="#0058ff"/><rect x="85.90" width="3.98" fill="#0068ff"/><rect x="89.83" width="3.98" fill="#0078ff"/><rect x="93.76" width="3.98" fill="#0087ff"/><rect x="97.70" width="3.98" fill="#0097ff"/><rect x="101.63" width="3.98" fill="#00b7ff"/><rect x="105.56" width="3.98" fill="#00c7ff"/><rect x="109.49" width="3.98" fill="#00e7ff"/><rect x="113.42" width="3.98" fill="#00f7ff"/><rect x="117.35" width="3.98" fill="#08fff7"/><rect x="121.29" width="3.98" fill="#18ffe7"/><rect x="125.22" width="7.91" fill="#38ffc7"/><rect x="133.08" width="7.91" fill="#48ffb7"/><rect x="140.94" width="3.98" fill="#58ffa7"/><rect x="144.88" width="7.91" fill="#68ff97"/><rect x="152.74" width="11.84" fill="#78ff87"/><rect x="164.53" width="3.98" fill="#87ff78"/><rect x="168.47" width="3.98" fill="#78ff87"/><rect x="172.40" width="3.98" fill="#68ff97"/><rect x="176.33" width="7.91" fill="#58ffa7"/><rect x="184.19" width="7.91" fill="#48ffb7"/><rect x="192.06" width="3.98" fill="#38ffc7"/><rect x="195.99" width="7.91" fill="#28ffd7"/><rect x="203.85" width="7.91" fill="#18ffe7"/><rect x="211.71" width="7.91" fill="#08fff7"/><rect x="219.58" width="7.91" fill="#00f7ff"/><rect x="227.44" width="7.91" fill="#00e7ff"/><rect x="235.30" width="3.98" fill="#00d7ff"/><rect x="239.24" width="15.78" fill="#00c7ff"/><rect x="254.96" width="7.91" fill="#00b7ff"/><rect x="262.83" width="3.98" fill="#00c7ff"/><rect x="266.76" width="11.85" fill="#00b7ff"/><rect x="278.55" width="5.95" fill="#00a7ff"/></g>
<g transform="translate(0,180.89)"><rect x="48.55" width="2.02" fill="#0018ff"/><rect x="50.52" width="3.98" fill="#0038ff"/><rect x="54.45" width="3.98" fill="#0048ff"/><rect x="58.38" width="3.98" fill="#0058ff"/><rect x="62.31" width="3.98" fill="#0068ff"/><rect x="66.24" width="7.91" fill="#0087ff"/><rect x="74.11" width="3.98" fill="#0097ff"/><rect x="78.04" width="3.98" fill="#0087ff"/><rect x="81.97" width="3.98" fill="#0078ff"/><rect x="85.90" width="15.78" fill="#0058ff"/><rect x="101.63" width="3.98" fill="#0068ff"/><rect x="105.56" width="3.98" fill="#0058ff"/><rect x="109.49" width="3.98" fill="#0078ff"/><rect x="113.42" width="3.98" fill="#0097ff"/><rect x="117.35" width="3.98" fill="#00a7ff"/><rect x="121.29" width="3.98" fill="#00c7ff"/><rect x="125.22" width="3.98" fill="#00d7ff"/><rect x="129.15" width="3.98" fill="#00e7ff"/><rect x="133.08" width="3.98" fill="#00f7ff"/><rect x="137.01" width="3.98" fill="#08fff7"/><rect x="140.94" width="7.91" fill="#28ffd7"/><rect x="148.81" width="3.98" fill="#38ffc7"/><rect x="152.74" width="7.91" fill="#48ffb7"/><rect x="160.60" width="11.84" fill="#58ffa7"/><rect x="172.40" width="7.91" fill="#48ffb7"/><rect x="180.26" width="7.91" fill="#38ffc7"/><rect x="188.12" width="3.98" fill="#28ffd7"/><rect x="192.06" width="7.91" fill="#18ffe7"/><rect x="199.92" width="7.91" fill="#00f7ff"/><rect x="207.78" width="3.98" fill="#00e7ff"/><rect x="211.71" width="11.85" fill="#00d7ff"/><rect x="223.51" width="7.91" fill="#00c7ff"/><rect x="231.37" width="3.98" fill="#00b7ff"/><rect x="235.30" width="3.98" fill="#00a7ff"/><rect x="239.24" width="3.98" fill="#00b7ff"/><rect x="243.17" width="7.91" fill="#00a7ff"/><rect x="251.03" width="15.78" fill="#00b7ff"/><rect x="266.76" width="11.85" fill="#00a7ff"/><rect x="278.55" width="5.95" fill="#0097ff"/></g></g>
<rect x="48.55" y="25.90" width="235.90" height="163.60" fill="none" stroke="#262626" stroke-width="1"/>
<path d="M127.18 189.50v-2.70M127.18 25.90v2.70M205.82 189.50v-2.70M205.82 25.90v2.70M48.55 38.82h2.70M284.45 38.82h-2.70M48.55 73.26h2.70M284.45 73.26h-2.70M48.55 107.70h2.70M284.45 107.70h-2.70M48.55 142.14h2.70M284.45 142.14h-2.70M48.55 176.58h2.70M284.45 176.58h-2.70" stroke="#1c1c1c" stroke-width="1.15" fill="none"/>
<text x="48.55" y="210.30" text-anchor="middle" font-size="16">700</text>
<text x="127.18" y="210.30" text-anchor="middle" font-size="16">800</text>
<text x="205.82" y="210.30" text-anchor="middle" font-size="16">900</text>
<text x="284.45" y="210.30" text-anchor="middle" font-size="16">1000</text>
<text x="43.35" y="44.72" text-anchor="end" font-size="16">40</text>
<text x="43.35" y="79.16" text-anchor="end" font-size="16">20</text>
<text x="43.35" y="113.60" text-anchor="end" font-size="16">0</text>
<text x="43.35" y="148.04" text-anchor="end" font-size="16">-20</text>
<text x="43.35" y="182.48" text-anchor="end" font-size="16">-40</text>
<text x="166.50" y="229.00" text-anchor="middle" font-size="16.5">wavelength [nm]</text>
<text transform="translate(14.95,108.20) rotate(-90)" text-anchor="middle" font-size="16.5"><tspan font-style="italic">θ</tspan> [°]</text>
<text x="166.10" y="13.60" text-anchor="middle" font-size="16.5">Au-Ag-PSN: T<tspan font-size="13.3" dy="9.4">LCP</tspan></text>
<text x="8.40" y="18.70" font-size="15" font-weight="bold">a</text>
<g class="h" shape-rendering="crispEdges"><g transform="translate(0,25.90)"><rect x="381.50" width="2.02" fill="#0008ff"/><rect x="383.47" width="3.98" fill="#0028ff"/><rect x="387.40" width="3.98" fill="#0048ff"/><rect x="391.33" width="3.98" fill="#0058ff"/><rect x="395.26" width="3.98" fill="#0068ff"/><rect x="399.19" width="3.98" fill="#0078ff"/><rect x="403.12" width="3.98" fill="#00a7ff"/><rect x="407.06" width="3.98" fill="#00c7ff"/><rect x="410.99" width="3.98" fill="#00d7ff"/><rect x="414.92" width="3.98" fill="#00f7ff"/><rect x="418.85" width="3.98" fill="#18ffe7"/><rect x="422.78" width="3.98" fill="#28ffd7"/><rect x="426.71" width="3.98" fill="#38ffc7"/><rect x="430.65" width="3.98" fill="#48ffb7"/><rect x="434.58" width="7.91" fill="#58ffa7"/><rect x="442.44" width="11.85" fill="#78ff87"/><rect x="454.24" width="3.98" fill="#87ff78"/><rect x="458.17" width="19.71" fill="#97ff68"/><rect x="477.83" width="3.98" fill="#a7ff58"/><rect x="481.76" width="19.71" fill="#97ff68"/><rect x="501.42" width="3.98" fill="#87ff78"/><rect x="505.35" width="11.85" fill="#78ff87"/><rect x="517.14" width="7.91" fill="#68ff97"/><rect x="525.01" width="7.91" fill="#48ffb7"/><rect x="532.87" width="3.98" fill="#38ffc7"/><rect x="536.80" width="3.98" fill="#28ffd7"/><rect x="540.73" width="3.98" fill="#18ffe7"/><rect x="544.66" width="3.98" fill="#08fff7"/><rect x="548.60" width="3.98" fill="#00f7ff"/><rect x="552.53" width="3.98" fill="#00e7ff"/><rect x="556.46" width="3.98" fill="#00d7ff"/><rect x="560.39" width="3.98" fill="#00c7ff"/><rect x="564.32" width="11.85" fill="#00b7ff"/><rect x="576.12" width="3.98" fill="#0097ff"/><rect x="580.05" width="3.98" fill="#00a7ff"/><rect x="583.98" width="3.98" fill="#0097ff"/><rect x="587.91" width="3.98" fill="#00a7ff"/><rect x="591.84" width="3.98" fill="#0097ff"/><rect x="595.78" width="11.84" fill="#00a7ff"/><rect x="607.57" width="3.98" fill="#0097ff"/><rect x="611.50" width="5.95" fill="#00a7ff"/></g>
<g transform="translate(0,34.51)"><rect x="381.50" width="2.02" fill="#0018ff"/><rect x="383.47" width="3.98" fill="#0038ff"/><rect x="387.40" width="3.98" fill="#0058ff"/><rect x="391.33" width="3.98" fill="#0068ff"/><rect x="395.26" width="3.98" fill="#0087ff"/><rect x="399.19" width="3.98" fill="#00a7ff"/><rect x="403.12" width="3.98" fill="#00b7ff"/><rect x="407.06" width="3.98" fill="#00e7ff"/><rect x="410.99" width="3.98" fill="#00f7ff"/><rect x="414.92" width="3.98" fill="#18ffe7"/><rect x="418.85" width="3.98" fill="#28ffd7"/><rect x="422.78" width="3.98" fill="#38ffc7"/><rect x="426.71" width="3.98" fill="#48ffb7"/><rect x="430.65" width="3.98" fill="#58ffa7"/><rect x="434.58" width="3.98" fill="#68ff97"/><rect x="438.51" width="3.98" fill="#78ff87"/><rect x="442.44" width="7.91" fill="#87ff78"/><rect x="450.30" width="7.91" fill="#97ff68"/><rect x="458.17" width="11.84" fill="#a7ff58"/><rect x="469.96" width="3.98" fill="#b7ff48"/><rect x="473.89" width="3.98" fill="#a7ff58"/><rect x="477.83" width="3.98" fill="#b7ff48"/><rect x="481.76" width="19.71" fill="#a7ff58"/><rect x="501.42" width="3.98" fill="#97ff68"/><rect x="505.35" width="7.91" fill="#87ff78"/><rect x="513.21" width="3.98" fill="#78ff87"/><rect x="517.14" width="7.91" fill="#68ff97"/><rect x="525.01" width="3.98" fill="#48ffb7"/><rect x="528.94" width="3.98" fill="#38ffc7"/><rect x="532.87" width="3.98" fill="#28ffd7"/><rect x="536.80" width="3.98" fill="#18ffe7"/><rect x="540.73" width="3.98" fill="#08fff7"/><rect x="544.66" width="3.98" fill="#00f7ff"/><rect x="548.60" width="3.98" fill="#00e7ff"/><rect x="552.53" width="3.98" fill="#00d7ff"/><rect x="556.46" width="3.98" fill="#00c7ff"/><rect x="560.39" width="51.16" fill="#00b7ff"/><rect x="611.50" width="5.95" fill="#00a7ff"/></g>
<g transform="translate(0,43.12)"><rect x="381.50" width="2.02" fill="#0068ff"/><rect x="383.47" width="3.98" fill="#0078ff"/><rect x="387.40" width="3.98" fill="#0087ff"/><rect x="391.33" width="3.98" fill="#0097ff"/><rect x="395.26" width="3.98" fill="#00b7ff"/><rect x="399.19" width="3.98" fill="#00c7ff"/><rect x="403.12" width="3.98" fill="#00e7ff"/><rect x="407.06" width="3.98" fill="#00f7ff"/><rect x="410.99" width="3.98" fill="#18ffe7"/><rect x="414.92" width="3.98" fill="#28ffd7"/><rect x="418.85" width="3.98" fill="#38ffc7"/><rect x="422.78" width="3.98" fill="#58ffa7"/><rect x="426.71" width="3.98" fill="#68ff97"/><rect x="430.65" width="3.98" fill="#78ff87"/><rect x="434.58" width="3.98" fill="#87ff78"/><rect x="438.51" width="7.91" fill="#a7ff58"/><rect x="446.37" width="3.98" fill="#b7ff48"/><rect x="450.30" width="3.98" fill="#c7ff38"/><rect x="454.24" width="3.98" fill="#d7ff28"/><rect x="458.17" width="27.57" fill="#e7ff18"/><rect x="485.69" width="3.98" fill="#d7ff28"/><rect x="489.62" width="7.91" fill="#c7ff38"/><rect x="497.48" width="3.98" fill="#b7ff48"/><rect x="501.42" width="3.98" fill="#a7ff58"/><rect x="505.35" width="3.98" fill="#97ff68"/><rect x="509.28" width="3.98" fill="#87ff78"/><rect x="513.21" width="11.85" fill="#68ff97"/><rect x="525.01" width="3.98" fill="#48ffb7"/><rect x="528.94" width="3.98" fill="#38ffc7"/><rect x="532.87" width="3.98" fill="#28ffd7"/><rect x="536.80" width="7.91" fill="#18ffe7"/><rect x="544.66" width="3.98" fill="#08fff7"/><rect x="548.60" width="7.91" fill="#00f7ff"/><rect x="556.46" width="31.50" fill="#00e7ff"/><rect x="587.91" width="3.98" fill="#00d7ff"/><rect x="591.84" width="3.98" fill="#00e7ff"/><rect x="595.78" width="7.91" fill="#00d7ff"/><rect x="603.64" width="3.98" fill="#00c7ff"/><rect x="607.57" width="7.91" fill="#00b7ff"/><rect x="615.43" width="2.02" fill="#00a7ff"/></g>
<g transform="translate(0,51.73)"><rect x="381.50" width="2.02" fill="#00b7ff"/><rect x="383.47" width="3.98" fill="#00c7ff"/><rect x="387.40" width="3.98" fill="#00e7ff"/><rect x="391.33" width="7.91" fill="#00f7ff"/><rect x="399.19" width="3.98" fill="#08fff7"/><rect x="403.12" width="3.98" fill="#28ffd7"/><rect x="407.06" width="3.98" fill="#38ffc7"/><rect x="410.99" width="3.98" fill="#58ffa7"/><rect x="414.92" width="3.98" fill="#68ff97"/><rect x="418.85" width="7.91" fill="#87ff78"/><rect x="426.71" width="7.91" fill="#97ff68"/><rect x="434.58" width="7.91" fill="#a7ff58"/><rect x="442.44" width="3.98" fill="#b7ff48"/><rect x="446.37" width="7.91" fill="#c7ff38"/><rect x="454.24" width="27.57" fill="#e7ff18"/><rect x="481.76" width="11.85" fill="#d7ff28"/><rect x="493.55" width="3.98" fill="#c7ff38"/><rect x="497.48" width="3.98" fill="#b7ff48"/><rect x="501.42" width="3.98" fill="#a7ff58"/><rect x="505.35" width="3.98" fill="#97ff68"/><rect x="509.28" width="3.98" fill="#87ff78"/><rect x="513.21" width="3.98" fill="#78ff87"/><rect x="517.14" width="11.84" fill="#58ffa7"/><rect x="528.94" width="3.98" fill="#48ffb7"/><rect x="532.87" width="7.91" fill="#38ffc7"/><rect x="540.73" width="11.85" fill="#28ffd7"/><rect x="552.53" width="11.84" fill="#18ffe7"/><rect x="564.32" width="3.98" fill="#28ffd7"/><rect x="568.25" width="19.71" fill="#18ffe7"/><rect x="587.91" width="11.84" fill="#08fff7"/><rect x="599.71" width="7.91" fill="#00e7ff"/><rect x="607.57" width="3.98" fill="#00d7ff"/><rect x="611.50" width="3.98" fill="#00c7ff"/><rect x="615.43" width="2.02" fill="#00b7ff"/></g>
<g transform="translate(0,60.34)"><rect x="381.50" width="2.02" fill="#00e7ff"/><rect x="383.47" width="3.98" fill="#00f7ff"/><rect x="387.40" width="7.91" fill="#08fff7"/><rect x="395.26" width="7.91" fill="#28ffd7"/><rect x="403.12" width="3.98" fill="#48ffb7"/><rect x="407.06" width="3.98" fill="#58ffa7"/><rect x="410.99" width="3.98" fill="#68ff97"/><rect x="414.92" width="7.91" fill="#87ff78"/><rect x="422.78" width="3.98" fill="#97ff68"/><rect x="426.71" width="7.91" fill="#a7ff58"/><rect x="434.58" width="11.85" fill="#b7ff48"/><rect x="446.37" width="3.98" fill="#d7ff28"/><rect x="450.30" width="3.98" fill="#c7ff38"/><rect x="454.24" width="15.78" fill="#d7ff28"/><rect x="469.96" width="3.98" fill="#c7ff38"/><rect x="473.89" width="7.91" fill="#d7ff28"/><rect x="481.76" width="11.85" fill="#c7ff38"/><rect x="493.55" width="11.84" fill="#b7ff48"/><rect x="505.35" width="3.98" fill="#a7ff58"/><rect x="509.28" width="7.91" fill="#97ff68"/><rect x="517.14" width="11.84" fill="#78ff87"/><rect x="528.94" width="11.84" fill="#68ff97"/><rect x="540.73" width="15.78" fill="#58ffa7"/><rect x="556.46" width="19.71" fill="#48ffb7"/><rect x="576.12" width="7.91" fill="#38ffc7"/><rect x="583.98" width="7.91" fill="#28ffd7"/><rect x="591.84" width="7.91" fill="#08fff7"/><rect x="599.71" width="3.98" fill="#00f7ff"/><rect x="603.64" width="7.91" fill="#00d7ff"/><rect x="611.50" width="5.95" fill="#00b7ff"/></g>
<g transform="translate(0,68.95)"><rect x="381.50" width="2.02" fill="#00e7ff"/><rect x="383.47" width="7.91" fill="#00f7ff"/><rect x="391.33" width="3.98" fill="#08fff7"/><rect x="395.26" width="3.98" fill="#18ffe7"/><rect x="399.19" width="3.98" fill="#28ffd7"/><rect x="403.12" width="3.98" fill="#48ffb7"/><rect x="407.06" width="3.98" fill="#58ffa7"/><rect x="410.99" width="3.98" fill="#68ff97"/><rect x="414.92" width="7.91" fill="#87ff78"/><rect x="422.78" width="7.91" fill="#97ff68"/><rect x="430.65" width="15.78" fill="#a7ff58"/><rect x="446.37" width="3.98" fill="#c7ff38"/><rect x="450.30" width="11.84" fill="#b7ff48"/><rect x="462.10" width="3.98" fill="#c7ff38"/><rect x="466.03" width="3.98" fill="#b7ff48"/><rect x="469.96" width="35.43" fill="#c7ff38"/><rect x="505.35" width="3.98" fill="#b7ff48"/><rect x="509.28" width="7.91" fill="#a7ff58"/><rect x="517.14" width="15.78" fill="#97ff68"/><rect x="532.87" width="7.91" fill="#87ff78"/><rect x="540.73" width="7.91" fill="#78ff87"/><rect x="548.60" width="15.78" fill="#68ff97"/><rect x="564.32" width="11.85" fill="#58ffa7"/><rect x="576.12" width="7.91" fill="#48ffb7"/><rect x="583.98" width="3.98" fill="#38ffc7"/><rect x="587.91" width="3.98" fill="#28ffd7"/><rect x="591.84" width="3.98" fill="#18ffe7"/><rect x="595.78" width="3.98" fill="#08fff7"/><rect x="599.71" width="3.98" fill="#00f7ff"/><rect x="603.64" width="3.98" fill="#00e7ff"/><rect x="607.57" width="3.98" fill="#00d7ff"/><rect x="611.50" width="3.98" fill="#00c7ff"/><rect x="615.43" width="2.02" fill="#00b7ff"/></g>
<g transform="translate(0,77.56)"><rect x="381.50" width="9.88" fill="#00f7ff"/><rect x="391.33" width="3.98" fill="#08fff7"/><rect x="395.26" width="3.98" fill="#28ffd7"/><rect x="399.19" width="3.98" fill="#48ffb7"/><rect x="403.12" width="3.98" fill="#58ffa7"/><rect x="407.06" width="3.98" fill="#78ff87"/><rect x="410.99" width="11.85" fill="#97ff68"/><rect x="422.78" width="3.98" fill="#a7ff58"/><rect x="426.71" width="3.98" fill="#97ff68"/><rect x="430.65" width="3.98" fill="#a7ff58"/><rect x="434.58" width="7.91" fill="#97ff68"/><rect x="442.44" width="19.71" fill="#a7ff58"/><rect x="462.10" width="11.85" fill="#b7ff48"/><rect x="473.89" width="31.50" fill="#c7ff38"/><rect x="505.35" width="11.85" fill="#b7ff48"/><rect x="517.14" width="11.84" fill="#a7ff58"/><rect x="528.94" width="7.91" fill="#97ff68"/><rect x="536.80" width="11.84" fill="#87ff78"/><rect x="548.60" width="11.85" fill="#78ff87"/><rect x="560.39" width="11.84" fill="#68ff97"/><rect x="572.19" width="11.84" fill="#48ffb7"/><rect x="583.98" width="3.98" fill="#38ffc7"/><rect x="587.91" width="3.98" fill="#28ffd7"/><rect x="591.84" width="7.91" fill="#18ffe7"/><rect x="599.71" width="7.91" fill="#08fff7"/><rect x="607.57" width="7.91" fill="#00f7ff"/><rect x="615.43" width="2.02" fill="#00e7ff"/></g>
<g transform="translate(0,86.17)"><rect x="381.50" width="2.02" fill="#00c7ff"/><rect x="383.47" width="11.85" fill="#00e7ff"/><rect x="395.26" width="3.98" fill="#18ffe7"/><rect x="399.19" width="3.98" fill="#28ffd7"/><rect x="403.12" width="3.98" fill="#58ffa7"/><rect x="407.06" width="3.98" fill="#68ff97"/><rect x="410.99" width="3.98" fill="#78ff87"/><rect x="414.92" width="11.84" fill="#87ff78"/><rect x="426.71" width="3.98" fill="#97ff68"/><rect x="430.65" width="3.98" fill="#a7ff58"/><rect x="434.58" width="11.85" fill="#97ff68"/><rect x="446.37" width="3.98" fill="#a7ff58"/><rect x="450.30" width="15.78" fill="#b7ff48"/><rect x="466.03" width="15.78" fill="#c7ff38"/><rect x="481.76" width="7.91" fill="#d7ff28"/><rect x="489.62" width="3.98" fill="#e7ff18"/><rect x="493.55" width="11.84" fill="#d7ff28"/><rect x="505.35" width="7.91" fill="#c7ff38"/><rect x="513.21" width="7.91" fill="#b7ff48"/><rect x="521.07" width="7.91" fill="#a7ff58"/><rect x="528.94" width="11.84" fill="#97ff68"/><rect x="540.73" width="11.85" fill="#87ff78"/><rect x="552.53" width="7.91" fill="#78ff87"/><rect x="560.39" width="7.91" fill="#68ff97"/><rect x="568.25" width="11.85" fill="#58ffa7"/><rect x="580.05" width="7.91" fill="#48ffb7"/><rect x="587.91" width="3.98" fill="#38ffc7"/><rect x="591.84" width="7.91" fill="#28ffd7"/><rect x="599.71" width="3.98" fill="#18ffe7"/><rect x="603.64" width="3.98" fill="#08fff7"/><rect x="607.57" width="3.98" fill="#18ffe7"/><rect x="611.50" width="3.98" fill="#08fff7"/><rect x="615.43" width="2.02" fill="#00f7ff"/></g>
<g transform="translate(0,94.78)"><rect x="381.50" width="9.88" fill="#0087ff"/><rect x="391.33" width="3.98" fill="#0097ff"/><rect x="395.26" width="3.98" fill="#00b7ff"/><rect x="399.19" width="3.98" fill="#00d7ff"/><rect x="403.12" width="3.98" fill="#08fff7"/><rect x="407.06" width="3.98" fill="#38ffc7"/><rect x="410.99" width="3.98" fill="#58ffa7"/><rect x="414.92" width="3.98" fill="#78ff87"/><rect x="418.85" width="3.98" fill="#87ff78"/><rect x="422.78" width="3.98" fill="#97ff68"/><rect x="426.71" width="3.98" fill="#a7ff58"/><rect x="430.65" width="7.91" fill="#b7ff48"/><rect x="438.51" width="3.98" fill="#c7ff38"/><rect x="442.44" width="3.98" fill="#b7ff48"/><rect x="446.37" width="7.91" fill="#c7ff38"/><rect x="454.24" width="3.98" fill="#d7ff28"/><rect x="458.17" width="3.98" fill="#e7ff18"/><rect x="462.10" width="7.91" fill="#d7ff28"/><rect x="469.96" width="11.85" fill="#e7ff18"/><rect x="481.76" width="3.98" fill="#f7ff08"/><rect x="485.69" width="15.78" fill="#e7ff18"/><rect x="501.42" width="7.91" fill="#d7ff28"/><rect x="509.28" width="3.98" fill="#c7ff38"/><rect x="513.21" width="3.98" fill="#b7ff48"/><rect x="517.14" width="7.91" fill="#a7ff58"/><rect x="525.01" width="11.84" fill="#97ff68"/><rect x="536.80" width="7.91" fill="#87ff78"/><rect x="544.66" width="11.84" fill="#78ff87"/><rect x="556.46" width="3.98" fill="#68ff97"/><rect x="560.39" width="7.91" fill="#58ffa7"/><rect x="568.25" width="11.85" fill="#48ffb7"/><rect x="580.05" width="11.84" fill="#38ffc7"/><rect x="591.84" width="3.98" fill="#28ffd7"/><rect x="595.78" width="7.91" fill="#18ffe7"/><rect x="603.64" width="3.98" fill="#08fff7"/><rect x="607.57" width="3.98" fill="#18ffe7"/><rect x="611.50" width="5.95" fill="#08fff7"/></g>
<g transform="translate(0,103.39)"><rect x="381.50" width="2.02" fill="#0008ff"/><rect x="383.47" width="7.91" fill="#0018ff"/><rect x="391.33" width="3.98" fill="#0058ff"/><rect x="395.26" width="3.98" fill="#0097ff"/><rect x="399.19" width="3.98" fill="#00c7ff"/><rect x="403.12" width="3.98" fill="#08fff7"/><rect x="407.06" width="3.98" fill="#38ffc7"/><rect x="410.99" width="3.98" fill="#58ffa7"/><rect x="414.92" width="3.98" fill="#78ff87"/><rect x="418.85" width="3.98" fill="#97ff68"/><rect x="422.78" width="3.98" fill="#b7ff48"/><rect x="426.71" width="3.98" fill="#c7ff38"/><rect x="430.65" width="3.98" fill="#e7ff18"/><rect x="434.58" width="15.78" fill="#f7ff08"/><rect x="450.30" width="3.98" fill="#fff700"/><rect x="454.24" width="3.98" fill="#f7ff08"/><rect x="458.17" width="27.57" fill="#fff700"/><rect x="485.69" width="3.98" fill="#ffe700"/><rect x="489.62" width="3.98" fill="#fff700"/><rect x="493.55" width="7.91" fill="#ffe700"/><rect x="501.42" width="3.98" fill="#fff700"/><rect x="505.35" width="3.98" fill="#f7ff08"/><rect x="509.28" width="3.98" fill="#fff700"/><rect x="513.21" width="3.98" fill="#f7ff08"/><rect x="517.14" width="3.98" fill="#d7ff28"/><rect x="521.07" width="3.98" fill="#c7ff38"/><rect x="525.01" width="3.98" fill="#a7ff58"/><rect x="528.94" width="3.98" fill="#97ff68"/><rect x="532.87" width="3.98" fill="#87ff78"/><rect x="536.80" width="7.91" fill="#78ff87"/><rect x="544.66" width="3.98" fill="#68ff97"/><rect x="548.60" width="3.98" fill="#78ff87"/><rect x="552.53" width="7.91" fill="#68ff97"/><rect x="560.39" width="7.91" fill="#58ffa7"/><rect x="568.25" width="11.85" fill="#48ffb7"/><rect x="580.05" width="19.71" fill="#38ffc7"/><rect x="599.71" width="3.98" fill="#28ffd7"/><rect x="603.64" width="13.81" fill="#18ffe7"/></g>
<g transform="translate(0,112.01)"><rect x="381.50" width="9.88" fill="#0097ff"/><rect x="391.33" width="3.98" fill="#00a7ff"/><rect x="395.26" width="3.98" fill="#00c7ff"/><rect x="399.19" width="3.98" fill="#00e7ff"/><rect x="403.12" width="3.98" fill="#08fff7"/><rect x="407.06" width="3.98" fill="#28ffd7"/><rect x="410.99" width="3.98" fill="#58ffa7"/><rect x="414.92" width="3.98" fill="#78ff87"/><rect x="418.85" width="3.98" fill="#97ff68"/><rect x="422.78" width="3.98" fill="#b7ff48"/><rect x="426.71" width="3.98" fill="#d7ff28"/><rect x="430.65" width="7.91" fill="#e7ff18"/><rect x="438.51" width="7.91" fill="#f7ff08"/><rect x="446.37" width="7.91" fill="#fff700"/><rect x="454.24" width="51.16" fill="#ffd700"/><rect x="505.35" width="3.98" fill="#ffe700"/><rect x="509.28" width="7.91" fill="#f7ff08"/><rect x="517.14" width="3.98" fill="#e7ff18"/><rect x="521.07" width="3.98" fill="#c7ff38"/><rect x="525.01" width="3.98" fill="#b7ff48"/><rect x="528.94" width="3.98" fill="#a7ff58"/><rect x="532.87" width="7.91" fill="#97ff68"/><rect x="540.73" width="7.91" fill="#87ff78"/><rect x="548.60" width="7.91" fill="#78ff87"/><rect x="556.46" width="7.91" fill="#68ff97"/><rect x="564.32" width="11.85" fill="#58ffa7"/><rect x="576.12" width="11.84" fill="#48ffb7"/><rect x="587.91" width="15.78" fill="#38ffc7"/><rect x="603.64" width="7.91" fill="#28ffd7"/><rect x="611.50" width="5.95" fill="#18ffe7"/></g>
<g transform="translate(0,120.62)"><rect x="381.50" width="2.02" fill="#0068ff"/><rect x="383.47" width="3.98" fill="#0087ff"/><rect x="387.40" width="3.98" fill="#00a7ff"/><rect x="391.33" width="3.98" fill="#00b7ff"/><rect x="395.26" width="3.98" fill="#00e7ff"/><rect x="399.19" width="3.98" fill="#08fff7"/><rect x="403.12" width="3.98" fill="#18ffe7"/><rect x="407.06" width="3.98" fill="#48ffb7"/><rect x="410.99" width="3.98" fill="#58ffa7"/><rect x="414.92" width="3.98" fill="#78ff87"/><rect x="418.85" width="3.98" fill="#97ff68"/><rect x="422.78" width="7.91" fill="#a7ff58"/><rect x="430.65" width="3.98" fill="#b7ff48"/><rect x="434.58" width="3.98" fill="#d7ff28"/><rect x="438.51" width="11.85" fill="#e7ff18"/><rect x="450.30" width="3.98" fill="#f7ff08"/><rect x="454.24" width="3.98" fill="#ffd700"/><rect x="458.17" width="35.43" fill="#ffc700"/><rect x="493.55" width="15.78" fill="#ffd700"/><rect x="509.28" width="7.91" fill="#f7ff08"/><rect x="517.14" width="3.98" fill="#e7ff18"/><rect x="521.07" width="3.98" fill="#d7ff28"/><rect x="525.01" width="3.98" fill="#c7ff38"/><rect x="528.94" width="7.91" fill="#b7ff48"/><rect x="536.80" width="3.98" fill="#a7ff58"/><rect x="540.73" width="7.91" fill="#97ff68"/><rect x="548.60" width="11.85" fill="#87ff78"/><rect x="560.39" width="3.98" fill="#68ff97"/><rect x="564.32" width="3.98" fill="#48ffb7"/><rect x="568.25" width="3.98" fill="#28ffd7"/><rect x="572.19" width="3.98" fill="#18ffe7"/><rect x="576.12" width="3.98" fill="#00f7ff"/><rect x="580.05" width="3.98" fill="#00e7ff"/><rect x="583.98" width="3.98" fill="#00d7ff"/><rect x="587.91" width="3.98" fill="#00c7ff"/><rect x="591.84" width="3.98" fill="#00b7ff"/><rect x="595.78" width="7.91" fill="#00a7ff"/><rect x="603.64" width="7.91" fill="#0097ff"/><rect x="611.50" width="5.95" fill="#00a7ff"/></g>
<g transform="translate(0,129.23)"><rect x="381.50" width="2.02" fill="#0058ff"/><rect x="383.47" width="3.98" fill="#0078ff"/><rect x="387.40" width="3.98" fill="#00a7ff"/><rect x="391.33" width="3.98" fill="#00c7ff"/><rect x="395.26" width="3.98" fill="#00e7ff"/><rect x="399.19" width="3.98" fill="#08fff7"/><rect x="403.12" width="3.98" fill="#18ffe7"/><rect x="407.06" width="3.98" fill="#48ffb7"/><rect x="410.99" width="3.98" fill="#58ffa7"/><rect x="414.92" width="3.98" fill="#68ff97"/><rect x="418.85" width="7.91" fill="#87ff78"/><rect x="426.71" width="7.91" fill="#a7ff58"/><rect x="434.58" width="3.98" fill="#b7ff48"/><rect x="438.51" width="7.91" fill="#c7ff38"/><rect x="446.37" width="3.98" fill="#d7ff28"/><rect x="450.30" width="3.98" fill="#e7ff18"/><rect x="454.24" width="3.98" fill="#fff700"/><rect x="458.17" width="3.98" fill="#ffe700"/><rect x="462.10" width="7.91" fill="#ffc700"/><rect x="469.96" width="23.64" fill="#ffb700"/><rect x="493.55" width="7.91" fill="#ffc700"/><rect x="501.42" width="7.91" fill="#ffd700"/><rect x="509.28" width="3.98" fill="#fff700"/><rect x="513.21" width="3.98" fill="#f7ff08"/><rect x="517.14" width="3.98" fill="#e7ff18"/><rect x="521.07" width="11.84" fill="#d7ff28"/><rect x="532.87" width="7.91" fill="#c7ff38"/><rect x="540.73" width="11.85" fill="#b7ff48"/><rect x="552.53" width="3.98" fill="#a7ff58"/><rect x="556.46" width="3.98" fill="#b7ff48"/><rect x="560.39" width="3.98" fill="#97ff68"/><rect x="564.32" width="3.98" fill="#87ff78"/><rect x="568.25" width="3.98" fill="#78ff87"/><rect x="572.19" width="3.98" fill="#58ffa7"/><rect x="576.12" width="3.98" fill="#48ffb7"/><rect x="580.05" width="3.98" fill="#38ffc7"/><rect x="583.98" width="3.98" fill="#18ffe7"/><rect x="587.91" width="3.98" fill="#08fff7"/><rect x="591.84" width="3.98" fill="#00e7ff"/><rect x="595.78" width="3.98" fill="#00d7ff"/><rect x="599.71" width="3.98" fill="#00b7ff"/><rect x="603.64" width="3.98" fill="#00a7ff"/><rect x="607.57" width="3.98" fill="#0087ff"/><rect x="611.50" width="3.98" fill="#0078ff"/><rect x="615.43" width="2.02" fill="#0058ff"/></g>
<g transform="translate(0,137.84)"><rect x="381.50" width="2.02" fill="#0038ff"/><rect x="383.47" width="3.98" fill="#0058ff"/><rect x="387.40" width="3.98" fill="#0087ff"/><rect x="391.33" width="3.98" fill="#00a7ff"/><rect x="395.26" width="3.98" fill="#00d7ff"/><rect x="399.19" width="3.98" fill="#00f7ff"/><rect x="403.12" width="3.98" fill="#18ffe7"/><rect x="407.06" width="3.98" fill="#38ffc7"/><rect x="410.99" width="3.98" fill="#48ffb7"/><rect x="414.92" width="3.98" fill="#58ffa7"/><rect x="418.85" width="7.91" fill="#78ff87"/><rect x="426.71" width="3.98" fill="#87ff78"/><rect x="430.65" width="7.91" fill="#97ff68"/><rect x="438.51" width="3.98" fill="#a7ff58"/><rect x="442.44" width="3.98" fill="#b7ff48"/><rect x="446.37" width="7.91" fill="#c7ff38"/><rect x="454.24" width="15.78" fill="#d7ff28"/><rect x="469.96" width="3.98" fill="#e7ff18"/><rect x="473.89" width="7.91" fill="#f7ff08"/><rect x="481.76" width="3.98" fill="#fff700"/><rect x="485.69" width="3.98" fill="#f7ff08"/><rect x="489.62" width="15.78" fill="#fff700"/><rect x="505.35" width="3.98" fill="#f7ff08"/><rect x="509.28" width="3.98" fill="#e7ff18"/><rect x="513.21" width="3.98" fill="#d7ff28"/><rect x="517.14" width="3.98" fill="#c7ff38"/><rect x="521.07" width="11.84" fill="#d7ff28"/><rect x="532.87" width="11.85" fill="#c7ff38"/><rect x="544.66" width="3.98" fill="#d7ff28"/><rect x="548.60" width="7.91" fill="#c7ff38"/><rect x="556.46" width="7.91" fill="#b7ff48"/><rect x="564.32" width="7.91" fill="#a7ff58"/><rect x="572.19" width="7.91" fill="#97ff68"/><rect x="580.05" width="3.98" fill="#78ff87"/><rect x="583.98" width="3.98" fill="#58ffa7"/><rect x="587.91" width="3.98" fill="#48ffb7"/><rect x="591.84" width="3.98" fill="#38ffc7"/><rect x="595.78" width="3.98" fill="#18ffe7"/><rect x="599.71" width="3.98" fill="#00f7ff"/><rect x="603.64" width="3.98" fill="#00d7ff"/><rect x="607.57" width="3.98" fill="#00b7ff"/><rect x="611.50" width="3.98" fill="#0097ff"/><rect x="615.43" width="2.02" fill="#0078ff"/></g>
<g transform="translate(0,146.45)"><rect x="381.50" width="2.02" fill="#0028ff"/><rect x="383.47" width="3.98" fill="#0058ff"/><rect x="387.40" width="3.98" fill="#0078ff"/><rect x="391.33" width="3.98" fill="#0097ff"/><rect x="395.26" width="3.98" fill="#00b7ff"/><rect x="399.19" width="3.98" fill="#00e7ff"/><rect x="403.12" width="3.98" fill="#08fff7"/><rect x="407.06" width="3.98" fill="#18ffe7"/><rect x="410.99" width="3.98" fill="#38ffc7"/><rect x="414.92" width="3.98" fill="#48ffb7"/><rect x="418.85" width="3.98" fill="#68ff97"/><rect x="422.78" width="15.78" fill="#78ff87"/><rect x="438.51" width="11.85" fill="#97ff68"/><rect x="450.30" width="11.84" fill="#a7ff58"/><rect x="462.10" width="11.85" fill="#b7ff48"/><rect x="473.89" width="31.50" fill="#c7ff38"/><rect x="505.35" width="7.91" fill="#b7ff48"/><rect x="513.21" width="7.91" fill="#c7ff38"/><rect x="521.07" width="3.98" fill="#b7ff48"/><rect x="525.01" width="19.71" fill="#c7ff38"/><rect x="544.66" width="7.91" fill="#d7ff28"/><rect x="552.53" width="11.84" fill="#e7ff18"/><rect x="564.32" width="15.78" fill="#d7ff28"/><rect x="580.05" width="7.91" fill="#b7ff48"/><rect x="587.91" width="3.98" fill="#a7ff58"/><rect x="591.84" width="7.91" fill="#97ff68"/><rect x="599.71" width="3.98" fill="#87ff78"/><rect x="603.64" width="3.98" fill="#78ff87"/><rect x="607.57" width="7.91" fill="#68ff97"/><rect x="615.43" width="2.02" fill="#58ffa7"/></g>
<g transform="translate(0,155.06)"><rect x="381.50" width="2.02" fill="#0008ff"/><rect x="383.47" width="3.98" fill="#0028ff"/><rect x="387.40" width="3.98" fill="#0058ff"/><rect x="391.33" width="3.98" fill="#0078ff"/><rect x="395.26" width="3.98" fill="#00a7ff"/><rect x="399.19" width="3.98" fill="#00d7ff"/><rect x="403.12" width="3.98" fill="#00f7ff"/><rect x="407.06" width="3.98" fill="#18ffe7"/><rect x="410.99" width="3.98" fill="#28ffd7"/><rect x="414.92" width="3.98" fill="#38ffc7"/><rect x="418.85" width="11.84" fill="#58ffa7"/><rect x="430.65" width="3.98" fill="#68ff97"/><rect x="434.58" width="3.98" fill="#78ff87"/><rect x="438.51" width="11.85" fill="#87ff78"/><rect x="450.30" width="7.91" fill="#97ff68"/><rect x="458.17" width="3.98" fill="#a7ff58"/><rect x="462.10" width="3.98" fill="#97ff68"/><rect x="466.03" width="15.78" fill="#a7ff58"/><rect x="481.76" width="7.91" fill="#97ff68"/><rect x="489.62" width="11.85" fill="#87ff78"/><rect x="501.42" width="7.91" fill="#78ff87"/><rect x="509.28" width="19.71" fill="#87ff78"/><rect x="528.94" width="3.98" fill="#97ff68"/><rect x="532.87" width="7.91" fill="#a7ff58"/><rect x="540.73" width="3.98" fill="#b7ff48"/><rect x="544.66" width="7.91" fill="#c7ff38"/><rect x="552.53" width="11.84" fill="#d7ff28"/><rect x="564.32" width="11.85" fill="#e7ff18"/><rect x="576.12" width="3.98" fill="#f7ff08"/><rect x="580.05" width="7.91" fill="#e7ff18"/><rect x="587.91" width="11.84" fill="#d7ff28"/><rect x="599.71" width="3.98" fill="#c7ff38"/><rect x="603.64" width="3.98" fill="#b7ff48"/><rect x="607.57" width="7.91" fill="#a7ff58"/><rect x="615.43" width="2.02" fill="#97ff68"/></g>
<g transform="translate(0,163.67)"><rect x="381.50" width="2.02" fill="#0000f7"/><rect x="383.47" width="3.98" fill="#0028ff"/><rect x="387.40" width="3.98" fill="#0048ff"/><rect x="391.33" width="3.98" fill="#0068ff"/><rect x="395.26" width="3.98" fill="#0087ff"/><rect x="399.19" width="3.98" fill="#00b7ff"/><rect x="403.12" width="3.98" fill="#00d7ff"/><rect x="407.06" width="3.98" fill="#00f7ff"/><rect x="410.99" width="3.98" fill="#18ffe7"/><rect x="414.92" width="3.98" fill="#28ffd7"/><rect x="418.85" width="3.98" fill="#48ffb7"/><rect x="422.78" width="11.84" fill="#58ffa7"/><rect x="434.58" width="7.91" fill="#68ff97"/><rect x="442.44" width="3.98" fill="#78ff87"/><rect x="446.37" width="27.57" fill="#87ff78"/><rect x="473.89" width="3.98" fill="#97ff68"/><rect x="477.83" width="3.98" fill="#87ff78"/><rect x="481.76" width="3.98" fill="#78ff87"/><rect x="485.69" width="7.91" fill="#68ff97"/><rect x="493.55" width="3.98" fill="#58ffa7"/><rect x="497.48" width="11.85" fill="#48ffb7"/><rect x="509.28" width="7.91" fill="#38ffc7"/><rect x="517.14" width="3.98" fill="#28ffd7"/><rect x="521.07" width="7.91" fill="#38ffc7"/><rect x="528.94" width="7.91" fill="#48ffb7"/><rect x="536.80" width="7.91" fill="#58ffa7"/><rect x="544.66" width="3.98" fill="#68ff97"/><rect x="548.60" width="3.98" fill="#87ff78"/><rect x="552.53" width="3.98" fill="#97ff68"/><rect x="556.46" width="3.98" fill="#a7ff58"/><rect x="560.39" width="3.98" fill="#b7ff48"/><rect x="564.32" width="3.98" fill="#c7ff38"/><rect x="568.25" width="7.91" fill="#d7ff28"/><rect x="576.12" width="15.78" fill="#e7ff18"/><rect x="591.84" width="7.91" fill="#d7ff28"/><rect x="599.71" width="7.91" fill="#c7ff38"/><rect x="607.57" width="3.98" fill="#b7ff48"/><rect x="611.50" width="3.98" fill="#a7ff58"/><rect x="615.43" width="2.02" fill="#97ff68"/></g>
<g transform="translate(0,172.28)"><rect x="381.50" width="2.02" fill="#0018ff"/><rect x="383.47" width="3.98" fill="#0028ff"/><rect x="387.40" width="3.98" fill="#0038ff"/><rect x="391.33" width="3.98" fill="#0048ff"/><rect x="395.26" width="3.98" fill="#0068ff"/><rect x="399.19" width="3.98" fill="#0078ff"/><rect x="403.12" width="3.98" fill="#0097ff"/><rect x="407.06" width="3.98" fill="#00c7ff"/><rect x="410.99" width="3.98" fill="#00d7ff"/><rect x="414.92" width="3.98" fill="#08fff7"/><rect x="418.85" width="3.98" fill="#18ffe7"/><rect x="422.78" width="3.98" fill="#28ffd7"/><rect x="426.71" width="3.98" fill="#38ffc7"/><rect x="430.65" width="7.91" fill="#58ffa7"/><rect x="438.51" width="11.85" fill="#78ff87"/><rect x="450.30" width="31.50" fill="#87ff78"/><rect x="481.76" width="3.98" fill="#78ff87"/><rect x="485.69" width="7.91" fill="#68ff97"/><rect x="493.55" width="3.98" fill="#58ffa7"/><rect x="497.48" width="3.98" fill="#48ffb7"/><rect x="501.42" width="3.98" fill="#38ffc7"/><rect x="505.35" width="3.98" fill="#28ffd7"/><rect x="509.28" width="3.98" fill="#18ffe7"/><rect x="513.21" width="3.98" fill="#08fff7"/><rect x="517.14" width="7.91" fill="#00e7ff"/><rect x="525.01" width="3.98" fill="#00d7ff"/><rect x="528.94" width="3.98" fill="#00c7ff"/><rect x="532.87" width="7.91" fill="#00b7ff"/><rect x="540.73" width="3.98" fill="#00c7ff"/><rect x="544.66" width="3.98" fill="#00e7ff"/><rect x="548.60" width="3.98" fill="#00f7ff"/><rect x="552.53" width="3.98" fill="#18ffe7"/><rect x="556.46" width="3.98" fill="#28ffd7"/><rect x="560.39" width="3.98" fill="#48ffb7"/><rect x="564.32" width="3.98" fill="#58ffa7"/><rect x="568.25" width="3.98" fill="#78ff87"/><rect x="572.19" width="3.98" fill="#87ff78"/><rect x="576.12" width="7.91" fill="#97ff68"/><rect x="583.98" width="7.91" fill="#a7ff58"/><rect x="591.84" width="11.84" fill="#b7ff48"/><rect x="603.64" width="7.91" fill="#a7ff58"/><rect x="611.50" width="5.95" fill="#97ff68"/></g>
<g transform="translate(0,180.89)"><rect x="381.50" width="2.02" fill="#0038ff"/><rect x="383.47" width="3.98" fill="#0048ff"/><rect x="387.40" width="3.98" fill="#0058ff"/><rect x="391.33" width="3.98" fill="#0068ff"/><rect x="395.26" width="3.98" fill="#0078ff"/><rect x="399.19" width="3.98" fill="#0087ff"/><rect x="403.12" width="3.98" fill="#0097ff"/><rect x="407.06" width="3.98" fill="#00a7ff"/><rect x="410.99" width="3.98" fill="#00b7ff"/><rect x="414.92" width="3.98" fill="#00d7ff"/><rect x="418.85" width="3.98" fill="#00e7ff"/><rect x="422.78" width="7.91" fill="#00f7ff"/><rect x="430.65" width="3.98" fill="#18ffe7"/><rect x="434.58" width="7.91" fill="#28ffd7"/><rect x="442.44" width="7.91" fill="#38ffc7"/><rect x="450.30" width="7.91" fill="#48ffb7"/><rect x="458.17" width="7.91" fill="#58ffa7"/><rect x="466.03" width="19.71" fill="#48ffb7"/><rect x="485.69" width="3.98" fill="#28ffd7"/><rect x="489.62" width="3.98" fill="#18ffe7"/><rect x="493.55" width="3.98" fill="#08fff7"/><rect x="497.48" width="3.98" fill="#00f7ff"/><rect x="501.42" width="7.91" fill="#00e7ff"/><rect x="509.28" width="7.91" fill="#00d7ff"/><rect x="517.14" width="7.91" fill="#00c7ff"/><rect x="525.01" width="7.91" fill="#00b7ff"/><rect x="532.87" width="7.91" fill="#00a7ff"/><rect x="540.73" width="3.98" fill="#0087ff"/><rect x="544.66" width="7.91" fill="#0068ff"/><rect x="552.53" width="3.98" fill="#0078ff"/><rect x="556.46" width="3.98" fill="#0087ff"/><rect x="560.39" width="3.98" fill="#0097ff"/><rect x="564.32" width="3.98" fill="#00b7ff"/><rect x="568.25" width="3.98" fill="#00c7ff"/><rect x="572.19" width="3.98" fill="#00e7ff"/><rect x="576.12" width="3.98" fill="#08fff7"/><rect x="580.05" width="3.98" fill="#18ffe7"/><rect x="583.98" width="3.98" fill="#28ffd7"/><rect x="587.91" width="7.91" fill="#38ffc7"/><rect x="595.78" width="7.91" fill="#58ffa7"/><rect x="603.64" width="3.98" fill="#68ff97"/><rect x="607.57" width="7.91" fill="#78ff87"/><rect x="615.43" width="2.02" fill="#87ff78"/></g></g>
<rect x="381.50" y="25.90" width="235.90" height="163.60" fill="none" stroke="#262626" stroke-width="1"/>
<path d="M460.13 189.50v-2.70M460.13 25.90v2.70M538.77 189.50v-2.70M538.77 25.90v2.70M381.50 38.82h2.70M617.40 38.82h-2.70M381.50 73.26h2.70M617.40 73.26h-2.70M381.50 107.70h2.70M617.40 107.70h-2.70M381.50 142.14h2.70M617.40 142.14h-2.70M381.50 176.58h2.70M617.40 176.58h-2.70" stroke="#1c1c1c" stroke-width="1.15" fill="none"/>
<text x="381.50" y="210.30" text-anchor="middle" font-size="16">700</text>
<text x="460.13" y="210.30" text-anchor="middle" font-size="16">800</text>
<text x="538.77" y="210.30" text-anchor="middle" font-size="16">900</text>
<text x="617.40" y="210.30" text-anchor="middle" font-size="16">1000</text>
<text x="376.30" y="44.72" text-anchor="end" font-size="16">40</text>
<text x="376.30" y="79.16" text-anchor="end" font-size="16">20</text>
<text x="376.30" y="113.60" text-anchor="end" font-size="16">0</text>
<text x="376.30" y="148.04" text-anchor="end" font-size="16">-20</text>
<text x="376.30" y="182.48" text-anchor="end" font-size="16">-40</text>
<text x="499.45" y="229.00" text-anchor="middle" font-size="16.5">wavelength [nm]</text>
<text transform="translate(347.90,108.20) rotate(-90)" text-anchor="middle" font-size="16.5"><tspan font-style="italic">θ</tspan> [°]</text>
<text x="499.05" y="13.60" text-anchor="middle" font-size="16.5">Au-Ag-PSN: T<tspan font-size="13.3" dy="9.4">RCP</tspan></text>
<text x="341.70" y="18.70" font-size="15" font-weight="bold">b</text>
<g class="h" shape-rendering="crispEdges"><g transform="translate(0,272.00)"><rect x="48.55" width="9.88" fill="#b7ff48"/><rect x="58.38" width="11.85" fill="#c7ff38"/><rect x="70.17" width="15.78" fill="#d7ff28"/><rect x="85.90" width="23.64" fill="#e7ff18"/><rect x="109.49" width="7.91" fill="#f7ff08"/><rect x="117.35" width="3.98" fill="#fff700"/><rect x="121.29" width="3.98" fill="#ffe700"/><rect x="125.22" width="7.91" fill="#ffd700"/><rect x="133.08" width="3.98" fill="#ffc700"/><rect x="137.01" width="3.98" fill="#ffb700"/><rect x="140.94" width="3.98" fill="#ffa700"/><rect x="144.88" width="15.78" fill="#ff9700"/><rect x="160.60" width="3.98" fill="#ffa700"/><rect x="164.53" width="3.98" fill="#ff9700"/><rect x="168.47" width="11.84" fill="#ffa700"/><rect x="180.26" width="3.98" fill="#ffb700"/><rect x="184.19" width="3.98" fill="#ffa700"/><rect x="188.12" width="23.64" fill="#ffb700"/><rect x="211.71" width="11.85" fill="#ffc700"/><rect x="223.51" width="7.91" fill="#ffb700"/><rect x="231.37" width="3.98" fill="#ffa700"/><rect x="235.30" width="7.91" fill="#ffb700"/><rect x="243.17" width="3.98" fill="#ffa700"/><rect x="247.10" width="3.98" fill="#ffb700"/><rect x="251.03" width="3.98" fill="#ff9700"/><rect x="254.96" width="3.98" fill="#ffb700"/><rect x="258.89" width="11.85" fill="#ffa700"/><rect x="270.69" width="3.98" fill="#ffb700"/><rect x="274.62" width="3.98" fill="#ffa700"/><rect x="278.55" width="5.95" fill="#ffb700"/></g>
<g transform="translate(0,280.61)"><rect x="48.55" width="2.02" fill="#a7ff58"/><rect x="50.52" width="11.85" fill="#b7ff48"/><rect x="62.31" width="7.91" fill="#c7ff38"/><rect x="70.17" width="3.98" fill="#b7ff48"/><rect x="74.11" width="3.98" fill="#d7ff28"/><rect x="78.04" width="7.91" fill="#c7ff38"/><rect x="85.90" width="7.91" fill="#d7ff28"/><rect x="93.76" width="3.98" fill="#e7ff18"/><rect x="97.70" width="3.98" fill="#d7ff28"/><rect x="101.63" width="11.85" fill="#e7ff18"/><rect x="113.42" width="7.91" fill="#f7ff08"/><rect x="121.29" width="3.98" fill="#ffc700"/><rect x="125.22" width="3.98" fill="#ffa700"/><rect x="129.15" width="3.98" fill="#ffb700"/><rect x="133.08" width="7.91" fill="#ff9700"/><rect x="140.94" width="19.71" fill="#ff8700"/><rect x="160.60" width="7.91" fill="#ff9700"/><rect x="168.47" width="3.98" fill="#ff8700"/><rect x="172.40" width="3.98" fill="#ff9700"/><rect x="176.33" width="3.98" fill="#ffa700"/><rect x="180.26" width="3.98" fill="#ff9700"/><rect x="184.19" width="3.98" fill="#ffa700"/><rect x="188.12" width="15.78" fill="#ffb700"/><rect x="203.85" width="7.91" fill="#ffc700"/><rect x="211.71" width="15.78" fill="#ffb700"/><rect x="227.44" width="11.85" fill="#ffa700"/><rect x="239.24" width="15.78" fill="#ff9700"/><rect x="254.96" width="3.98" fill="#ffa700"/><rect x="258.89" width="7.91" fill="#ff9700"/><rect x="266.76" width="11.85" fill="#ffa700"/><rect x="278.55" width="5.95" fill="#ffb700"/></g>
<g transform="translate(0,289.22)"><rect x="48.55" width="2.02" fill="#97ff68"/><rect x="50.52" width="11.85" fill="#a7ff58"/><rect x="62.31" width="15.78" fill="#c7ff38"/><rect x="78.04" width="3.98" fill="#d7ff28"/><rect x="81.97" width="7.91" fill="#e7ff18"/><rect x="89.83" width="7.91" fill="#f7ff08"/><rect x="97.70" width="7.91" fill="#fff700"/><rect x="105.56" width="3.98" fill="#ffe700"/><rect x="109.49" width="3.98" fill="#ffd700"/><rect x="113.42" width="3.98" fill="#ffc700"/><rect x="117.35" width="3.98" fill="#ffb700"/><rect x="121.29" width="7.91" fill="#ffa700"/><rect x="129.15" width="7.91" fill="#ff9700"/><rect x="137.01" width="39.37" fill="#ff8700"/><rect x="176.33" width="7.91" fill="#ff9700"/><rect x="184.19" width="7.91" fill="#ffa700"/><rect x="192.06" width="3.98" fill="#ff9700"/><rect x="195.99" width="3.98" fill="#ffa700"/><rect x="199.92" width="7.91" fill="#ffb700"/><rect x="207.78" width="11.85" fill="#ffa700"/><rect x="219.58" width="3.98" fill="#ff9700"/><rect x="223.51" width="3.98" fill="#ffa700"/><rect x="227.44" width="7.91" fill="#ff9700"/><rect x="235.30" width="3.98" fill="#ff8700"/><rect x="239.24" width="3.98" fill="#ff9700"/><rect x="243.17" width="7.91" fill="#ff8700"/><rect x="251.03" width="15.78" fill="#ff7800"/><rect x="266.76" width="7.91" fill="#ff8700"/><rect x="274.62" width="7.91" fill="#ffa700"/><rect x="282.48" width="2.02" fill="#ffb700"/></g>
<g transform="translate(0,297.83)"><rect x="48.55" width="2.02" fill="#68ff97"/><rect x="50.52" width="3.98" fill="#87ff78"/><rect x="54.45" width="3.98" fill="#97ff68"/><rect x="58.38" width="3.98" fill="#b7ff48"/><rect x="62.31" width="7.91" fill="#a7ff58"/><rect x="70.17" width="7.91" fill="#d7ff28"/><rect x="78.04" width="3.98" fill="#e7ff18"/><rect x="81.97" width="7.91" fill="#f7ff08"/><rect x="89.83" width="3.98" fill="#ffe700"/><rect x="93.76" width="3.98" fill="#ffd700"/><rect x="97.70" width="3.98" fill="#ffc700"/><rect x="101.63" width="7.91" fill="#ffb700"/><rect x="109.49" width="11.85" fill="#ffa700"/><rect x="121.29" width="7.91" fill="#ff9700"/><rect x="129.15" width="3.98" fill="#ff8700"/><rect x="133.08" width="3.98" fill="#ff9700"/><rect x="137.01" width="3.98" fill="#ff8700"/><rect x="140.94" width="3.98" fill="#ff9700"/><rect x="144.88" width="7.91" fill="#ff8700"/><rect x="152.74" width="19.71" fill="#ff7800"/><rect x="172.40" width="3.98" fill="#ff8700"/><rect x="176.33" width="3.98" fill="#ff9700"/><rect x="180.26" width="3.98" fill="#ff8700"/><rect x="184.19" width="11.85" fill="#ff9700"/><rect x="195.99" width="3.98" fill="#ff8700"/><rect x="199.92" width="11.84" fill="#ff9700"/><rect x="211.71" width="3.98" fill="#ff8700"/><rect x="215.65" width="3.98" fill="#ff9700"/><rect x="219.58" width="7.91" fill="#ff8700"/><rect x="227.44" width="7.91" fill="#ff7800"/><rect x="235.30" width="3.98" fill="#ff8700"/><rect x="239.24" width="15.78" fill="#ff7800"/><rect x="254.96" width="15.78" fill="#ff6800"/><rect x="270.69" width="7.91" fill="#ff8700"/><rect x="278.55" width="5.95" fill="#ff9700"/></g>
<g transform="translate(0,306.44)"><rect x="48.55" width="2.02" fill="#68ff97"/><rect x="50.52" width="3.98" fill="#78ff87"/><rect x="54.45" width="3.98" fill="#87ff78"/><rect x="58.38" width="3.98" fill="#a7ff58"/><rect x="62.31" width="3.98" fill="#b7ff48"/><rect x="66.24" width="3.98" fill="#c7ff38"/><rect x="70.17" width="3.98" fill="#d7ff28"/><rect x="74.11" width="7.91" fill="#e7ff18"/><rect x="81.97" width="7.91" fill="#fff700"/><rect x="89.83" width="7.91" fill="#ffd700"/><rect x="97.70" width="3.98" fill="#ffc700"/><rect x="101.63" width="3.98" fill="#ffb700"/><rect x="105.56" width="3.98" fill="#ffa700"/><rect x="109.49" width="15.78" fill="#ff9700"/><rect x="125.22" width="11.84" fill="#ff8700"/><rect x="137.01" width="35.43" fill="#ff7800"/><rect x="172.40" width="3.98" fill="#ff8700"/><rect x="176.33" width="3.98" fill="#ff7800"/><rect x="180.26" width="3.98" fill="#ff8700"/><rect x="184.19" width="3.98" fill="#ff7800"/><rect x="188.12" width="3.98" fill="#ff8700"/><rect x="192.06" width="3.98" fill="#ff7800"/><rect x="195.99" width="7.91" fill="#ff6800"/><rect x="203.85" width="3.98" fill="#ff7800"/><rect x="207.78" width="3.98" fill="#ff6800"/><rect x="211.71" width="3.98" fill="#ff5800"/><rect x="215.65" width="3.98" fill="#ff6800"/><rect x="219.58" width="3.98" fill="#ff5800"/><rect x="223.51" width="3.98" fill="#ff6800"/><rect x="227.44" width="15.78" fill="#ff5800"/><rect x="243.17" width="3.98" fill="#ff6800"/><rect x="247.10" width="7.91" fill="#ff7800"/><rect x="254.96" width="3.98" fill="#ff8700"/><rect x="258.89" width="3.98" fill="#ff9700"/><rect x="262.83" width="3.98" fill="#ffa700"/><rect x="266.76" width="3.98" fill="#ff9700"/><rect x="270.69" width="11.85" fill="#ffa700"/><rect x="282.48" width="2.02" fill="#ffb700"/></g>
<g transform="translate(0,315.05)"><rect x="48.55" width="2.02" fill="#28ffd7"/><rect x="50.52" width="3.98" fill="#48ffb7"/><rect x="54.45" width="3.98" fill="#68ff97"/><rect x="58.38" width="3.98" fill="#78ff87"/><rect x="62.31" width="3.98" fill="#87ff78"/><rect x="66.24" width="7.91" fill="#a7ff58"/><rect x="74.11" width="7.91" fill="#c7ff38"/><rect x="81.97" width="7.91" fill="#d7ff28"/><rect x="89.83" width="7.91" fill="#fff700"/><rect x="97.70" width="3.98" fill="#ffd700"/><rect x="101.63" width="3.98" fill="#ffb700"/><rect x="105.56" width="11.84" fill="#ff9700"/><rect x="117.35" width="11.84" fill="#ff8700"/><rect x="129.15" width="7.91" fill="#ff7800"/><rect x="137.01" width="3.98" fill="#ff8700"/><rect x="140.94" width="7.91" fill="#ff7800"/><rect x="148.81" width="23.64" fill="#ff6800"/><rect x="172.40" width="3.98" fill="#ff5800"/><rect x="176.33" width="3.98" fill="#ff6800"/><rect x="180.26" width="31.50" fill="#ff5800"/><rect x="211.71" width="3.98" fill="#ff6800"/><rect x="215.65" width="31.50" fill="#ff5800"/><rect x="247.10" width="3.98" fill="#ff6800"/><rect x="251.03" width="3.98" fill="#ff8700"/><rect x="254.96" width="7.91" fill="#ff9700"/><rect x="262.83" width="7.91" fill="#ffb700"/><rect x="270.69" width="3.98" fill="#ffc700"/><rect x="274.62" width="7.91" fill="#ffb700"/><rect x="282.48" width="2.02" fill="#ffa700"/></g>
<g transform="translate(0,323.66)"><rect x="48.55" width="2.02" fill="#28ffd7"/><rect x="50.52" width="3.98" fill="#38ffc7"/><rect x="54.45" width="3.98" fill="#58ffa7"/><rect x="58.38" width="3.98" fill="#78ff87"/><rect x="62.31" width="3.98" fill="#68ff97"/><rect x="66.24" width="7.91" fill="#87ff78"/><rect x="74.11" width="3.98" fill="#97ff68"/><rect x="78.04" width="3.98" fill="#b7ff48"/><rect x="81.97" width="7.91" fill="#c7ff38"/><rect x="89.83" width="3.98" fill="#e7ff18"/><rect x="93.76" width="3.98" fill="#f7ff08"/><rect x="97.70" width="3.98" fill="#ffe700"/><rect x="101.63" width="3.98" fill="#ffc700"/><rect x="105.56" width="3.98" fill="#ff9700"/><rect x="109.49" width="3.98" fill="#ff8700"/><rect x="113.42" width="3.98" fill="#ff7800"/><rect x="117.35" width="3.98" fill="#ff8700"/><rect x="121.29" width="7.91" fill="#ff6800"/><rect x="129.15" width="15.78" fill="#ff5800"/><rect x="144.88" width="3.98" fill="#ff4800"/><rect x="148.81" width="11.84" fill="#ff3800"/><rect x="160.60" width="3.98" fill="#ff4800"/><rect x="164.53" width="3.98" fill="#ff3800"/><rect x="168.47" width="11.84" fill="#ff2800"/><rect x="180.26" width="3.98" fill="#ff3800"/><rect x="184.19" width="3.98" fill="#ff4800"/><rect x="188.12" width="11.85" fill="#ff3800"/><rect x="199.92" width="15.78" fill="#ff2800"/><rect x="215.65" width="7.91" fill="#ff3800"/><rect x="223.51" width="3.98" fill="#ff2800"/><rect x="227.44" width="11.85" fill="#ff3800"/><rect x="239.24" width="3.98" fill="#ff4800"/><rect x="243.17" width="3.98" fill="#ff3800"/><rect x="247.10" width="3.98" fill="#ff4800"/><rect x="251.03" width="7.91" fill="#ff5800"/><rect x="258.89" width="11.85" fill="#ff6800"/><rect x="270.69" width="3.98" fill="#ff7800"/><rect x="274.62" width="9.88" fill="#ff8700"/></g>
<g transform="translate(0,332.27)"><rect x="48.55" width="5.95" fill="#08fff7"/><rect x="54.45" width="11.84" fill="#00f7ff"/><rect x="66.24" width="3.98" fill="#18ffe7"/><rect x="70.17" width="3.98" fill="#28ffd7"/><rect x="74.11" width="3.98" fill="#58ffa7"/><rect x="78.04" width="3.98" fill="#87ff78"/><rect x="81.97" width="3.98" fill="#b7ff48"/><rect x="85.90" width="3.98" fill="#d7ff28"/><rect x="89.83" width="7.91" fill="#fff700"/><rect x="97.70" width="3.98" fill="#ffe700"/><rect x="101.63" width="3.98" fill="#ffc700"/><rect x="105.56" width="3.98" fill="#ffa700"/><rect x="109.49" width="7.91" fill="#ff8700"/><rect x="117.35" width="3.98" fill="#ff7800"/><rect x="121.29" width="3.98" fill="#ff6800"/><rect x="125.22" width="11.84" fill="#ff4800"/><rect x="137.01" width="3.98" fill="#ff3800"/><rect x="140.94" width="19.71" fill="#ff2800"/><rect x="160.60" width="11.84" fill="#ff1800"/><rect x="172.40" width="3.98" fill="#ff2800"/><rect x="176.33" width="3.98" fill="#ff1800"/><rect x="180.26" width="3.98" fill="#ff0800"/><rect x="184.19" width="55.09" fill="#ff1800"/><rect x="239.24" width="11.84" fill="#ff2800"/><rect x="251.03" width="11.85" fill="#ff3800"/><rect x="262.83" width="3.98" fill="#ff4800"/><rect x="266.76" width="15.78" fill="#ff5800"/><rect x="282.48" width="2.02" fill="#ff6800"/></g>
<g transform="translate(0,340.88)"><rect x="48.55" width="13.81" fill="#0097ff"/><rect x="62.31" width="3.98" fill="#00b7ff"/><rect x="66.24" width="3.98" fill="#08fff7"/><rect x="70.17" width="3.98" fill="#28ffd7"/><rect x="74.11" width="3.98" fill="#68ff97"/><rect x="78.04" width="3.98" fill="#97ff68"/><rect x="81.97" width="3.98" fill="#b7ff48"/><rect x="85.90" width="3.98" fill="#d7ff28"/><rect x="89.83" width="3.98" fill="#e7ff18"/><rect x="93.76" width="3.98" fill="#ffe700"/><rect x="97.70" width="3.98" fill="#ffc700"/><rect x="101.63" width="3.98" fill="#ffb700"/><rect x="105.56" width="3.98" fill="#ff8700"/><rect x="109.49" width="7.91" fill="#ff7800"/><rect x="117.35" width="3.98" fill="#ff6800"/><rect x="121.29" width="7.91" fill="#ff5800"/><rect x="129.15" width="7.91" fill="#ff3800"/><rect x="137.01" width="3.98" fill="#ff2800"/><rect x="140.94" width="3.98" fill="#ff1800"/><rect x="144.88" width="19.71" fill="#ff0800"/><rect x="164.53" width="3.98" fill="#f70000"/><rect x="168.47" width="7.91" fill="#ff0800"/><rect x="176.33" width="3.98" fill="#f70000"/><rect x="180.26" width="7.91" fill="#ff0800"/><rect x="188.12" width="3.98" fill="#f70000"/><rect x="192.06" width="3.98" fill="#ff0800"/><rect x="195.99" width="3.98" fill="#f70000"/><rect x="199.92" width="11.84" fill="#ff0800"/><rect x="211.71" width="3.98" fill="#f70000"/><rect x="215.65" width="31.50" fill="#ff0800"/><rect x="247.10" width="7.91" fill="#ff1800"/><rect x="254.96" width="23.64" fill="#ff2800"/><rect x="278.55" width="5.95" fill="#ff3800"/></g>
<g transform="translate(0,349.49)"><rect x="48.55" width="9.88" fill="#0000f7"/><rect x="58.38" width="3.98" fill="#0048ff"/><rect x="62.31" width="3.98" fill="#00a7ff"/><rect x="66.24" width="3.98" fill="#00e7ff"/><rect x="70.17" width="3.98" fill="#28ffd7"/><rect x="74.11" width="3.98" fill="#68ff97"/><rect x="78.04" width="3.98" fill="#97ff68"/><rect x="81.97" width="3.98" fill="#c7ff38"/><rect x="85.90" width="3.98" fill="#d7ff28"/><rect x="89.83" width="3.98" fill="#fff700"/><rect x="93.76" width="3.98" fill="#ffe700"/><rect x="97.70" width="3.98" fill="#ffc700"/><rect x="101.63" width="3.98" fill="#ffa700"/><rect x="105.56" width="3.98" fill="#ff7800"/><rect x="109.49" width="3.98" fill="#ff8700"/><rect x="113.42" width="7.91" fill="#ff6800"/><rect x="121.29" width="7.91" fill="#ff5800"/><rect x="129.15" width="3.98" fill="#ff4800"/><rect x="133.08" width="3.98" fill="#ff3800"/><rect x="137.01" width="3.98" fill="#ff2800"/><rect x="140.94" width="7.91" fill="#ff1800"/><rect x="148.81" width="15.78" fill="#ff0800"/><rect x="164.53" width="7.91" fill="#f70000"/><rect x="172.40" width="3.98" fill="#e70000"/><rect x="176.33" width="7.91" fill="#f70000"/><rect x="184.19" width="7.91" fill="#e70000"/><rect x="192.06" width="11.85" fill="#f70000"/><rect x="203.85" width="3.98" fill="#e70000"/><rect x="207.78" width="7.91" fill="#f70000"/><rect x="215.65" width="3.98" fill="#e70000"/><rect x="219.58" width="27.57" fill="#f70000"/><rect x="247.10" width="23.64" fill="#ff0800"/><rect x="270.69" width="3.98" fill="#ff1800"/><rect x="274.62" width="9.88" fill="#ff2800"/></g>
<g transform="translate(0,358.11)"><rect x="48.55" width="9.88" fill="#0097ff"/><rect x="58.38" width="3.98" fill="#00a7ff"/><rect x="62.31" width="3.98" fill="#00d7ff"/><rect x="66.24" width="3.98" fill="#00f7ff"/><rect x="70.17" width="3.98" fill="#28ffd7"/><rect x="74.11" width="3.98" fill="#68ff97"/><rect x="78.04" width="3.98" fill="#97ff68"/><rect x="81.97" width="3.98" fill="#b7ff48"/><rect x="85.90" width="3.98" fill="#d7ff28"/><rect x="89.83" width="3.98" fill="#f7ff08"/><rect x="93.76" width="3.98" fill="#ffe700"/><rect x="97.70" width="3.98" fill="#ffc700"/><rect x="101.63" width="3.98" fill="#ffa700"/><rect x="105.56" width="3.98" fill="#ff8700"/><rect x="109.49" width="7.91" fill="#ff7800"/><rect x="117.35" width="3.98" fill="#ff6800"/><rect x="121.29" width="3.98" fill="#ff5800"/><rect x="125.22" width="3.98" fill="#ff4800"/><rect x="129.15" width="11.85" fill="#ff3800"/><rect x="140.94" width="3.98" fill="#ff2800"/><rect x="144.88" width="3.98" fill="#ff1800"/><rect x="148.81" width="7.91" fill="#ff2800"/><rect x="156.67" width="23.64" fill="#ff0800"/><rect x="180.26" width="27.57" fill="#f70000"/><rect x="207.78" width="3.98" fill="#ff0800"/><rect x="211.71" width="11.85" fill="#f70000"/><rect x="223.51" width="3.98" fill="#e70000"/><rect x="227.44" width="23.64" fill="#f70000"/><rect x="251.03" width="11.85" fill="#ff0800"/><rect x="262.83" width="7.91" fill="#ff1800"/><rect x="270.69" width="3.98" fill="#ff2800"/><rect x="274.62" width="3.98" fill="#ff1800"/><rect x="278.55" width="5.95" fill="#ff2800"/></g>
<g transform="translate(0,366.72)"><rect x="48.55" width="9.88" fill="#00f7ff"/><rect x="58.38" width="3.98" fill="#08fff7"/><rect x="62.31" width="3.98" fill="#00f7ff"/><rect x="66.24" width="3.98" fill="#18ffe7"/><rect x="70.17" width="3.98" fill="#38ffc7"/><rect x="74.11" width="3.98" fill="#58ffa7"/><rect x="78.04" width="3.98" fill="#87ff78"/><rect x="81.97" width="3.98" fill="#b7ff48"/><rect x="85.90" width="3.98" fill="#d7ff28"/><rect x="89.83" width="3.98" fill="#f7ff08"/><rect x="93.76" width="3.98" fill="#e7ff18"/><rect x="97.70" width="3.98" fill="#f7ff08"/><rect x="101.63" width="3.98" fill="#fff700"/><rect x="105.56" width="3.98" fill="#ffe700"/><rect x="109.49" width="3.98" fill="#ffc700"/><rect x="113.42" width="3.98" fill="#ffb700"/><rect x="117.35" width="3.98" fill="#ffa700"/><rect x="121.29" width="3.98" fill="#ff9700"/><rect x="125.22" width="7.91" fill="#ff7800"/><rect x="133.08" width="3.98" fill="#ff6800"/><rect x="137.01" width="3.98" fill="#ff5800"/><rect x="140.94" width="3.98" fill="#ff4800"/><rect x="144.88" width="7.91" fill="#ff3800"/><rect x="152.74" width="7.91" fill="#ff2800"/><rect x="160.60" width="23.64" fill="#ff1800"/><rect x="184.19" width="23.64" fill="#ff0800"/><rect x="207.78" width="3.98" fill="#ff1800"/><rect x="211.71" width="7.91" fill="#ff0800"/><rect x="219.58" width="3.98" fill="#f70000"/><rect x="223.51" width="7.91" fill="#ff0800"/><rect x="231.37" width="3.98" fill="#ff1800"/><rect x="235.30" width="3.98" fill="#ff0800"/><rect x="239.24" width="27.57" fill="#ff1800"/><rect x="266.76" width="3.98" fill="#ff2800"/><rect x="270.69" width="3.98" fill="#ff1800"/><rect x="274.62" width="9.88" fill="#ff2800"/></g>
<g transform="translate(0,375.33)"><rect x="48.55" width="2.02" fill="#38ffc7"/><rect x="50.52" width="3.98" fill="#48ffb7"/><rect x="54.45" width="3.98" fill="#58ffa7"/><rect x="58.38" width="7.91" fill="#68ff97"/><rect x="66.24" width="3.98" fill="#78ff87"/><rect x="70.17" width="7.91" fill="#97ff68"/><rect x="78.04" width="3.98" fill="#a7ff58"/><rect x="81.97" width="7.91" fill="#c7ff38"/><rect x="89.83" width="3.98" fill="#d7ff28"/><rect x="93.76" width="3.98" fill="#e7ff18"/><rect x="97.70" width="3.98" fill="#f7ff08"/><rect x="101.63" width="3.98" fill="#ffe700"/><rect x="105.56" width="7.91" fill="#ffd700"/><rect x="113.42" width="3.98" fill="#ffc700"/><rect x="117.35" width="3.98" fill="#ffb700"/><rect x="121.29" width="3.98" fill="#ffa700"/><rect x="125.22" width="3.98" fill="#ff9700"/><rect x="129.15" width="3.98" fill="#ff8700"/><rect x="133.08" width="15.78" fill="#ff7800"/><rect x="148.81" width="3.98" fill="#ff6800"/><rect x="152.74" width="3.98" fill="#ff5800"/><rect x="156.67" width="3.98" fill="#ff4800"/><rect x="160.60" width="27.57" fill="#ff3800"/><rect x="188.12" width="3.98" fill="#ff2800"/><rect x="192.06" width="3.98" fill="#ff3800"/><rect x="195.99" width="3.98" fill="#ff2800"/><rect x="199.92" width="11.84" fill="#ff3800"/><rect x="211.71" width="7.91" fill="#ff2800"/><rect x="219.58" width="19.71" fill="#ff1800"/><rect x="239.24" width="3.98" fill="#ff2800"/><rect x="243.17" width="3.98" fill="#ff1800"/><rect x="247.10" width="7.91" fill="#ff2800"/><rect x="254.96" width="3.98" fill="#ff1800"/><rect x="258.89" width="7.91" fill="#ff2800"/><rect x="266.76" width="3.98" fill="#ff3800"/><rect x="270.69" width="13.81" fill="#ff4800"/></g>
<g transform="translate(0,383.94)"><rect x="48.55" width="2.02" fill="#48ffb7"/><rect x="50.52" width="3.98" fill="#68ff97"/><rect x="54.45" width="3.98" fill="#78ff87"/><rect x="58.38" width="3.98" fill="#87ff78"/><rect x="62.31" width="7.91" fill="#a7ff58"/><rect x="70.17" width="3.98" fill="#b7ff48"/><rect x="74.11" width="3.98" fill="#c7ff38"/><rect x="78.04" width="3.98" fill="#d7ff28"/><rect x="81.97" width="3.98" fill="#e7ff18"/><rect x="85.90" width="3.98" fill="#f7ff08"/><rect x="89.83" width="3.98" fill="#fff700"/><rect x="93.76" width="11.85" fill="#ffe700"/><rect x="105.56" width="11.84" fill="#ffb700"/><rect x="117.35" width="7.91" fill="#ffa700"/><rect x="125.22" width="3.98" fill="#ff8700"/><rect x="129.15" width="3.98" fill="#ff9700"/><rect x="133.08" width="7.91" fill="#ff8700"/><rect x="140.94" width="7.91" fill="#ff7800"/><rect x="148.81" width="11.84" fill="#ff6800"/><rect x="160.60" width="23.64" fill="#ff5800"/><rect x="184.19" width="7.91" fill="#ff6800"/><rect x="192.06" width="7.91" fill="#ff5800"/><rect x="199.92" width="7.91" fill="#ff6800"/><rect x="207.78" width="3.98" fill="#ff4800"/><rect x="211.71" width="3.98" fill="#ff5800"/><rect x="215.65" width="7.91" fill="#ff4800"/><rect x="223.51" width="39.37" fill="#ff3800"/><rect x="262.83" width="7.91" fill="#ff4800"/><rect x="270.69" width="7.91" fill="#ff5800"/><rect x="278.55" width="5.95" fill="#ff7800"/></g>
<g transform="translate(0,392.55)"><rect x="48.55" width="2.02" fill="#48ffb7"/><rect x="50.52" width="3.98" fill="#58ffa7"/><rect x="54.45" width="3.98" fill="#78ff87"/><rect x="58.38" width="3.98" fill="#97ff68"/><rect x="62.31" width="3.98" fill="#a7ff58"/><rect x="66.24" width="3.98" fill="#b7ff48"/><rect x="70.17" width="3.98" fill="#c7ff38"/><rect x="74.11" width="3.98" fill="#e7ff18"/><rect x="78.04" width="7.91" fill="#f7ff08"/><rect x="85.90" width="11.84" fill="#fff700"/><rect x="97.70" width="3.98" fill="#ffe700"/><rect x="101.63" width="7.91" fill="#ffc700"/><rect x="109.49" width="7.91" fill="#ffb700"/><rect x="117.35" width="11.84" fill="#ff9700"/><rect x="129.15" width="7.91" fill="#ff8700"/><rect x="137.01" width="3.98" fill="#ff7800"/><rect x="140.94" width="7.91" fill="#ff8700"/><rect x="148.81" width="19.71" fill="#ff7800"/><rect x="168.47" width="3.98" fill="#ff8700"/><rect x="172.40" width="3.98" fill="#ff7800"/><rect x="176.33" width="11.85" fill="#ff8700"/><rect x="188.12" width="3.98" fill="#ff9700"/><rect x="192.06" width="7.91" fill="#ff8700"/><rect x="199.92" width="3.98" fill="#ff9700"/><rect x="203.85" width="7.91" fill="#ff8700"/><rect x="211.71" width="3.98" fill="#ff7800"/><rect x="215.65" width="7.91" fill="#ff6800"/><rect x="223.51" width="7.91" fill="#ff5800"/><rect x="231.37" width="3.98" fill="#ff6800"/><rect x="235.30" width="15.78" fill="#ff4800"/><rect x="251.03" width="3.98" fill="#ff3800"/><rect x="254.96" width="3.98" fill="#ff5800"/><rect x="258.89" width="7.91" fill="#ff4800"/><rect x="266.76" width="7.91" fill="#ff5800"/><rect x="274.62" width="7.91" fill="#ff6800"/><rect x="282.48" width="2.02" fill="#ff8700"/></g>
<g transform="translate(0,401.16)"><rect x="48.55" width="2.02" fill="#18ffe7"/><rect x="50.52" width="3.98" fill="#48ffb7"/><rect x="54.45" width="3.98" fill="#58ffa7"/><rect x="58.38" width="3.98" fill="#78ff87"/><rect x="62.31" width="7.91" fill="#97ff68"/><rect x="70.17" width="3.98" fill="#b7ff48"/><rect x="74.11" width="3.98" fill="#c7ff38"/><rect x="78.04" width="7.91" fill="#e7ff18"/><rect x="85.90" width="3.98" fill="#f7ff08"/><rect x="89.83" width="3.98" fill="#fff700"/><rect x="93.76" width="7.91" fill="#ffe700"/><rect x="101.63" width="3.98" fill="#ffc700"/><rect x="105.56" width="3.98" fill="#ffa700"/><rect x="109.49" width="3.98" fill="#ffb700"/><rect x="113.42" width="3.98" fill="#ffa700"/><rect x="117.35" width="7.91" fill="#ff9700"/><rect x="125.22" width="3.98" fill="#ff7800"/><rect x="129.15" width="11.85" fill="#ff8700"/><rect x="140.94" width="15.78" fill="#ff7800"/><rect x="156.67" width="3.98" fill="#ff6800"/><rect x="160.60" width="15.78" fill="#ff7800"/><rect x="176.33" width="3.98" fill="#ff8700"/><rect x="180.26" width="3.98" fill="#ff9700"/><rect x="184.19" width="11.85" fill="#ff8700"/><rect x="195.99" width="3.98" fill="#ff9700"/><rect x="199.92" width="15.78" fill="#ff8700"/><rect x="215.65" width="11.85" fill="#ff7800"/><rect x="227.44" width="3.98" fill="#ff6800"/><rect x="231.37" width="3.98" fill="#ff7800"/><rect x="235.30" width="23.64" fill="#ff5800"/><rect x="258.89" width="7.91" fill="#ff4800"/><rect x="266.76" width="3.98" fill="#ff5800"/><rect x="270.69" width="3.98" fill="#ff4800"/><rect x="274.62" width="7.91" fill="#ff6800"/><rect x="282.48" width="2.02" fill="#ff8700"/></g>
<g transform="translate(0,409.77)"><rect x="48.55" width="2.02" fill="#48ffb7"/><rect x="50.52" width="3.98" fill="#68ff97"/><rect x="54.45" width="3.98" fill="#58ffa7"/><rect x="58.38" width="3.98" fill="#78ff87"/><rect x="62.31" width="3.98" fill="#87ff78"/><rect x="66.24" width="7.91" fill="#97ff68"/><rect x="74.11" width="3.98" fill="#b7ff48"/><rect x="78.04" width="7.91" fill="#c7ff38"/><rect x="85.90" width="3.98" fill="#d7ff28"/><rect x="89.83" width="7.91" fill="#f7ff08"/><rect x="97.70" width="3.98" fill="#ffe700"/><rect x="101.63" width="3.98" fill="#ffd700"/><rect x="105.56" width="7.91" fill="#ffc700"/><rect x="113.42" width="3.98" fill="#ffb700"/><rect x="117.35" width="3.98" fill="#ffa700"/><rect x="121.29" width="3.98" fill="#ff9700"/><rect x="125.22" width="3.98" fill="#ff7800"/><rect x="129.15" width="3.98" fill="#ff8700"/><rect x="133.08" width="27.57" fill="#ff7800"/><rect x="160.60" width="3.98" fill="#ff8700"/><rect x="164.53" width="3.98" fill="#ff7800"/><rect x="168.47" width="7.91" fill="#ff8700"/><rect x="176.33" width="19.71" fill="#ff9700"/><rect x="195.99" width="3.98" fill="#ffa700"/><rect x="199.92" width="15.78" fill="#ff9700"/><rect x="215.65" width="3.98" fill="#ff8700"/><rect x="219.58" width="3.98" fill="#ff9700"/><rect x="223.51" width="7.91" fill="#ff8700"/><rect x="231.37" width="3.98" fill="#ff7800"/><rect x="235.30" width="3.98" fill="#ff6800"/><rect x="239.24" width="3.98" fill="#ff7800"/><rect x="243.17" width="3.98" fill="#ff6800"/><rect x="247.10" width="3.98" fill="#ff7800"/><rect x="251.03" width="3.98" fill="#ff6800"/><rect x="254.96" width="11.85" fill="#ff5800"/><rect x="266.76" width="7.91" fill="#ff6800"/><rect x="274.62" width="3.98" fill="#ff7800"/><rect x="278.55" width="3.98" fill="#ff6800"/><rect x="282.48" width="2.02" fill="#ff7800"/></g>
<g transform="translate(0,418.38)"><rect x="48.55" width="2.02" fill="#78ff87"/><rect x="50.52" width="3.98" fill="#68ff97"/><rect x="54.45" width="7.91" fill="#78ff87"/><rect x="62.31" width="3.98" fill="#97ff68"/><rect x="66.24" width="7.91" fill="#a7ff58"/><rect x="74.11" width="3.98" fill="#b7ff48"/><rect x="78.04" width="3.98" fill="#c7ff38"/><rect x="81.97" width="7.91" fill="#d7ff28"/><rect x="89.83" width="7.91" fill="#e7ff18"/><rect x="97.70" width="11.85" fill="#fff700"/><rect x="109.49" width="7.91" fill="#ffd700"/><rect x="117.35" width="3.98" fill="#ffc700"/><rect x="121.29" width="3.98" fill="#ffb700"/><rect x="125.22" width="3.98" fill="#ff8700"/><rect x="129.15" width="3.98" fill="#ff9700"/><rect x="133.08" width="15.78" fill="#ff8700"/><rect x="148.81" width="3.98" fill="#ff7800"/><rect x="152.74" width="11.84" fill="#ff8700"/><rect x="164.53" width="19.71" fill="#ff9700"/><rect x="184.19" width="15.78" fill="#ffa700"/><rect x="199.92" width="19.71" fill="#ffb700"/><rect x="219.58" width="7.91" fill="#ffa700"/><rect x="227.44" width="3.98" fill="#ffb700"/><rect x="231.37" width="3.98" fill="#ff9700"/><rect x="235.30" width="11.85" fill="#ffa700"/><rect x="247.10" width="11.84" fill="#ff9700"/><rect x="258.89" width="15.78" fill="#ff8700"/><rect x="274.62" width="3.98" fill="#ff9700"/><rect x="278.55" width="5.95" fill="#ff8700"/></g>
<g transform="translate(0,426.99)"><rect x="48.55" width="5.95" fill="#68ff97"/><rect x="54.45" width="3.98" fill="#78ff87"/><rect x="58.38" width="3.98" fill="#87ff78"/><rect x="62.31" width="3.98" fill="#97ff68"/><rect x="66.24" width="7.91" fill="#a7ff58"/><rect x="74.11" width="7.91" fill="#b7ff48"/><rect x="81.97" width="7.91" fill="#c7ff38"/><rect x="89.83" width="3.98" fill="#d7ff28"/><rect x="93.76" width="7.91" fill="#e7ff18"/><rect x="101.63" width="7.91" fill="#f7ff08"/><rect x="109.49" width="3.98" fill="#fff700"/><rect x="113.42" width="3.98" fill="#f7ff08"/><rect x="117.35" width="11.84" fill="#ffe700"/><rect x="129.15" width="3.98" fill="#ffb700"/><rect x="133.08" width="3.98" fill="#ff9700"/><rect x="137.01" width="3.98" fill="#ffa700"/><rect x="140.94" width="3.98" fill="#ff9700"/><rect x="144.88" width="3.98" fill="#ff8700"/><rect x="148.81" width="3.98" fill="#ffa700"/><rect x="152.74" width="15.78" fill="#ff9700"/><rect x="168.47" width="3.98" fill="#ffa700"/><rect x="172.40" width="3.98" fill="#ff9700"/><rect x="176.33" width="3.98" fill="#ffa700"/><rect x="180.26" width="15.78" fill="#ffb700"/><rect x="195.99" width="15.78" fill="#ffc700"/><rect x="211.71" width="3.98" fill="#ffb700"/><rect x="215.65" width="7.91" fill="#ffc700"/><rect x="223.51" width="7.91" fill="#ffb700"/><rect x="231.37" width="3.98" fill="#ffa700"/><rect x="235.30" width="3.98" fill="#ffb700"/><rect x="239.24" width="3.98" fill="#ffa700"/><rect x="243.17" width="7.91" fill="#ffb700"/><rect x="251.03" width="3.98" fill="#ffa700"/><rect x="254.96" width="3.98" fill="#ffb700"/><rect x="258.89" width="3.98" fill="#ff9700"/><rect x="262.83" width="21.67" fill="#ffa700"/></g></g>
<rect x="48.55" y="272.00" width="235.90" height="163.60" fill="none" stroke="#262626" stroke-width="1"/>
<path d="M127.18 435.60v-2.70M127.18 272.00v2.70M205.82 435.60v-2.70M205.82 272.00v2.70M48.55 284.92h2.70M284.45 284.92h-2.70M48.55 319.36h2.70M284.45 319.36h-2.70M48.55 353.80h2.70M284.45 353.80h-2.70M48.55 388.24h2.70M284.45 388.24h-2.70M48.55 422.68h2.70M284.45 422.68h-2.70" stroke="#1c1c1c" stroke-width="1.15" fill="none"/>
<text x="48.55" y="456.40" text-anchor="middle" font-size="16">700</text>
<text x="127.18" y="456.40" text-anchor="middle" font-size="16">800</text>
<text x="205.82" y="456.40" text-anchor="middle" font-size="16">900</text>
<text x="284.45" y="456.40" text-anchor="middle" font-size="16">1000</text>
<text x="43.35" y="290.82" text-anchor="end" font-size="16">40</text>
<text x="43.35" y="325.26" text-anchor="end" font-size="16">20</text>
<text x="43.35" y="359.70" text-anchor="end" font-size="16">0</text>
<text x="43.35" y="394.14" text-anchor="end" font-size="16">-20</text>
<text x="43.35" y="428.58" text-anchor="end" font-size="16">-40</text>
<text x="166.50" y="475.10" text-anchor="middle" font-size="16.5">wavelength [nm]</text>
<text transform="translate(14.95,354.30) rotate(-90)" text-anchor="middle" font-size="16.5"><tspan font-style="italic">θ</tspan> [°]</text>
<text x="166.10" y="259.70" text-anchor="middle" font-size="16.5">Au-Ag-NHA: T<tspan font-size="13.3" dy="9.4">LCP</tspan></text>
<text x="8.40" y="262.30" font-size="15" font-weight="bold">c</text>
<g class="h" shape-rendering="crispEdges"><g transform="translate(0,272.00)"><rect x="381.50" width="2.02" fill="#68ff97"/><rect x="383.47" width="7.91" fill="#78ff87"/><rect x="391.33" width="3.98" fill="#87ff78"/><rect x="395.26" width="3.98" fill="#97ff68"/><rect x="399.19" width="3.98" fill="#a7ff58"/><rect x="403.12" width="3.98" fill="#b7ff48"/><rect x="407.06" width="3.98" fill="#a7ff58"/><rect x="410.99" width="11.85" fill="#b7ff48"/><rect x="422.78" width="11.84" fill="#c7ff38"/><rect x="434.58" width="3.98" fill="#d7ff28"/><rect x="438.51" width="11.85" fill="#e7ff18"/><rect x="450.30" width="7.91" fill="#f7ff08"/><rect x="458.17" width="3.98" fill="#ffd700"/><rect x="462.10" width="3.98" fill="#ffc700"/><rect x="466.03" width="7.91" fill="#ffb700"/><rect x="473.89" width="35.44" fill="#ffa700"/><rect x="509.28" width="15.78" fill="#ffb700"/><rect x="525.01" width="7.91" fill="#ffc700"/><rect x="532.87" width="35.43" fill="#ffd700"/><rect x="568.25" width="49.20" fill="#ffc700"/></g>
<g transform="translate(0,280.61)"><rect x="381.50" width="5.95" fill="#58ffa7"/><rect x="387.40" width="3.98" fill="#68ff97"/><rect x="391.33" width="3.98" fill="#78ff87"/><rect x="395.26" width="3.98" fill="#87ff78"/><rect x="399.19" width="7.91" fill="#97ff68"/><rect x="407.06" width="11.85" fill="#a7ff58"/><rect x="418.85" width="7.91" fill="#b7ff48"/><rect x="426.71" width="7.91" fill="#c7ff38"/><rect x="434.58" width="3.98" fill="#d7ff28"/><rect x="438.51" width="7.91" fill="#e7ff18"/><rect x="446.37" width="3.98" fill="#fff700"/><rect x="450.30" width="3.98" fill="#ffd700"/><rect x="454.24" width="7.91" fill="#ff9700"/><rect x="462.10" width="3.98" fill="#ff8700"/><rect x="466.03" width="7.91" fill="#ff9700"/><rect x="473.89" width="3.98" fill="#ff8700"/><rect x="477.83" width="23.64" fill="#ff9700"/><rect x="501.42" width="3.98" fill="#ffa700"/><rect x="505.35" width="3.98" fill="#ff9700"/><rect x="509.28" width="11.84" fill="#ffa700"/><rect x="521.07" width="51.16" fill="#ffb700"/><rect x="572.19" width="11.84" fill="#ffa700"/><rect x="583.98" width="3.98" fill="#ff8700"/><rect x="587.91" width="11.84" fill="#ff9700"/><rect x="599.71" width="3.98" fill="#ffa700"/><rect x="603.64" width="13.81" fill="#ff9700"/></g>
<g transform="translate(0,289.22)"><rect x="381.50" width="9.88" fill="#58ffa7"/><rect x="391.33" width="11.85" fill="#78ff87"/><rect x="403.12" width="7.91" fill="#97ff68"/><rect x="410.99" width="3.98" fill="#a7ff58"/><rect x="414.92" width="3.98" fill="#b7ff48"/><rect x="418.85" width="3.98" fill="#c7ff38"/><rect x="422.78" width="3.98" fill="#e7ff18"/><rect x="426.71" width="3.98" fill="#f7ff08"/><rect x="430.65" width="3.98" fill="#fff700"/><rect x="434.58" width="3.98" fill="#ffe700"/><rect x="438.51" width="3.98" fill="#ffd700"/><rect x="442.44" width="3.98" fill="#ffc700"/><rect x="446.37" width="3.98" fill="#ffb700"/><rect x="450.30" width="7.91" fill="#ff9700"/><rect x="458.17" width="3.98" fill="#ff8700"/><rect x="462.10" width="3.98" fill="#ff9700"/><rect x="466.03" width="7.91" fill="#ff8700"/><rect x="473.89" width="11.85" fill="#ff7800"/><rect x="485.69" width="7.91" fill="#ff9700"/><rect x="493.55" width="3.98" fill="#ff8700"/><rect x="497.48" width="11.85" fill="#ff9700"/><rect x="509.28" width="15.78" fill="#ffa700"/><rect x="525.01" width="3.98" fill="#ff9700"/><rect x="528.94" width="11.84" fill="#ffa700"/><rect x="540.73" width="3.98" fill="#ffb700"/><rect x="544.66" width="15.78" fill="#ffa700"/><rect x="560.39" width="7.91" fill="#ff9700"/><rect x="568.25" width="3.98" fill="#ff8700"/><rect x="572.19" width="19.71" fill="#ff7800"/><rect x="591.84" width="19.71" fill="#ff6800"/><rect x="611.50" width="3.98" fill="#ff8700"/><rect x="615.43" width="2.02" fill="#ff9700"/></g>
<g transform="translate(0,297.83)"><rect x="381.50" width="2.02" fill="#28ffd7"/><rect x="383.47" width="7.91" fill="#48ffb7"/><rect x="391.33" width="3.98" fill="#58ffa7"/><rect x="395.26" width="3.98" fill="#68ff97"/><rect x="399.19" width="3.98" fill="#78ff87"/><rect x="403.12" width="3.98" fill="#97ff68"/><rect x="407.06" width="3.98" fill="#b7ff48"/><rect x="410.99" width="3.98" fill="#c7ff38"/><rect x="414.92" width="3.98" fill="#d7ff28"/><rect x="418.85" width="3.98" fill="#f7ff08"/><rect x="422.78" width="3.98" fill="#ffe700"/><rect x="426.71" width="7.91" fill="#ffd700"/><rect x="434.58" width="3.98" fill="#ffc700"/><rect x="438.51" width="3.98" fill="#ffa700"/><rect x="442.44" width="3.98" fill="#ffb700"/><rect x="446.37" width="15.78" fill="#ff9700"/><rect x="462.10" width="3.98" fill="#ff7800"/><rect x="466.03" width="19.71" fill="#ff8700"/><rect x="485.69" width="3.98" fill="#ff7800"/><rect x="489.62" width="3.98" fill="#ff8700"/><rect x="493.55" width="7.91" fill="#ff7800"/><rect x="501.42" width="19.71" fill="#ff8700"/><rect x="521.07" width="3.98" fill="#ff9700"/><rect x="525.01" width="3.98" fill="#ffa700"/><rect x="528.94" width="3.98" fill="#ff9700"/><rect x="532.87" width="7.91" fill="#ffa700"/><rect x="540.73" width="11.85" fill="#ff9700"/><rect x="552.53" width="3.98" fill="#ff7800"/><rect x="556.46" width="3.98" fill="#ff8700"/><rect x="560.39" width="3.98" fill="#ff7800"/><rect x="564.32" width="3.98" fill="#ff6800"/><rect x="568.25" width="27.57" fill="#ff5800"/><rect x="595.78" width="3.98" fill="#ff4800"/><rect x="599.71" width="7.91" fill="#ff5800"/><rect x="607.57" width="3.98" fill="#ff4800"/><rect x="611.50" width="5.95" fill="#ff7800"/></g>
<g transform="translate(0,306.44)"><rect x="381.50" width="5.95" fill="#48ffb7"/><rect x="387.40" width="3.98" fill="#58ffa7"/><rect x="391.33" width="7.91" fill="#78ff87"/><rect x="399.19" width="3.98" fill="#97ff68"/><rect x="403.12" width="3.98" fill="#b7ff48"/><rect x="407.06" width="3.98" fill="#c7ff38"/><rect x="410.99" width="3.98" fill="#d7ff28"/><rect x="414.92" width="3.98" fill="#e7ff18"/><rect x="418.85" width="3.98" fill="#f7ff08"/><rect x="422.78" width="3.98" fill="#ffe700"/><rect x="426.71" width="3.98" fill="#fff700"/><rect x="430.65" width="3.98" fill="#ffd700"/><rect x="434.58" width="3.98" fill="#ffc700"/><rect x="438.51" width="7.91" fill="#ff9700"/><rect x="446.37" width="3.98" fill="#ffa700"/><rect x="450.30" width="3.98" fill="#ff9700"/><rect x="454.24" width="3.98" fill="#ff8700"/><rect x="458.17" width="3.98" fill="#ff7800"/><rect x="462.10" width="3.98" fill="#ff8700"/><rect x="466.03" width="7.91" fill="#ff7800"/><rect x="473.89" width="23.64" fill="#ff6800"/><rect x="497.48" width="15.78" fill="#ff7800"/><rect x="513.21" width="3.98" fill="#ff8700"/><rect x="517.14" width="11.84" fill="#ff7800"/><rect x="528.94" width="3.98" fill="#ff8700"/><rect x="532.87" width="3.98" fill="#ff7800"/><rect x="536.80" width="3.98" fill="#ff8700"/><rect x="540.73" width="3.98" fill="#ff7800"/><rect x="544.66" width="7.91" fill="#ff6800"/><rect x="552.53" width="3.98" fill="#ff5800"/><rect x="556.46" width="3.98" fill="#ff6800"/><rect x="560.39" width="7.91" fill="#ff4800"/><rect x="568.25" width="3.98" fill="#ff5800"/><rect x="572.19" width="15.78" fill="#ff4800"/><rect x="587.91" width="3.98" fill="#ff5800"/><rect x="591.84" width="7.91" fill="#ff4800"/><rect x="599.71" width="7.91" fill="#ff5800"/><rect x="607.57" width="3.98" fill="#ff6800"/><rect x="611.50" width="5.95" fill="#ff7800"/></g>
<g transform="translate(0,315.05)"><rect x="381.50" width="5.95" fill="#48ffb7"/><rect x="387.40" width="3.98" fill="#68ff97"/><rect x="391.33" width="7.91" fill="#78ff87"/><rect x="399.19" width="3.98" fill="#97ff68"/><rect x="403.12" width="7.91" fill="#a7ff58"/><rect x="410.99" width="3.98" fill="#c7ff38"/><rect x="414.92" width="7.91" fill="#d7ff28"/><rect x="422.78" width="3.98" fill="#e7ff18"/><rect x="426.71" width="3.98" fill="#fff700"/><rect x="430.65" width="3.98" fill="#ffe700"/><rect x="434.58" width="3.98" fill="#ffd700"/><rect x="438.51" width="3.98" fill="#ffb700"/><rect x="442.44" width="3.98" fill="#ffa700"/><rect x="446.37" width="3.98" fill="#ff9700"/><rect x="450.30" width="15.78" fill="#ff8700"/><rect x="466.03" width="3.98" fill="#ff6800"/><rect x="469.96" width="3.98" fill="#ff7800"/><rect x="473.89" width="3.98" fill="#ff6800"/><rect x="477.83" width="7.91" fill="#ff5800"/><rect x="485.69" width="3.98" fill="#ff4800"/><rect x="489.62" width="11.85" fill="#ff5800"/><rect x="501.42" width="11.84" fill="#ff4800"/><rect x="513.21" width="7.91" fill="#ff3800"/><rect x="521.07" width="15.78" fill="#ff4800"/><rect x="536.80" width="3.98" fill="#ff3800"/><rect x="540.73" width="3.98" fill="#ff4800"/><rect x="544.66" width="3.98" fill="#ff3800"/><rect x="548.60" width="7.91" fill="#ff4800"/><rect x="556.46" width="3.98" fill="#ff3800"/><rect x="560.39" width="23.64" fill="#ff4800"/><rect x="583.98" width="11.85" fill="#ff3800"/><rect x="595.78" width="3.98" fill="#ff4800"/><rect x="599.71" width="3.98" fill="#ff3800"/><rect x="603.64" width="7.91" fill="#ff5800"/><rect x="611.50" width="5.95" fill="#ff6800"/></g>
<g transform="translate(0,323.66)"><rect x="381.50" width="5.95" fill="#38ffc7"/><rect x="387.40" width="3.98" fill="#48ffb7"/><rect x="391.33" width="3.98" fill="#58ffa7"/><rect x="395.26" width="3.98" fill="#68ff97"/><rect x="399.19" width="3.98" fill="#78ff87"/><rect x="403.12" width="3.98" fill="#87ff78"/><rect x="407.06" width="3.98" fill="#97ff68"/><rect x="410.99" width="3.98" fill="#a7ff58"/><rect x="414.92" width="3.98" fill="#b7ff48"/><rect x="418.85" width="3.98" fill="#c7ff38"/><rect x="422.78" width="3.98" fill="#e7ff18"/><rect x="426.71" width="3.98" fill="#f7ff08"/><rect x="430.65" width="3.98" fill="#ffe700"/><rect x="434.58" width="3.98" fill="#ffc700"/><rect x="438.51" width="3.98" fill="#ffa700"/><rect x="442.44" width="7.91" fill="#ff9700"/><rect x="450.30" width="3.98" fill="#ff8700"/><rect x="454.24" width="3.98" fill="#ff7800"/><rect x="458.17" width="7.91" fill="#ff6800"/><rect x="466.03" width="11.84" fill="#ff5800"/><rect x="477.83" width="3.98" fill="#ff4800"/><rect x="481.76" width="3.98" fill="#ff3800"/><rect x="485.69" width="3.98" fill="#ff4800"/><rect x="489.62" width="3.98" fill="#ff3800"/><rect x="493.55" width="7.91" fill="#ff2800"/><rect x="501.42" width="19.71" fill="#ff1800"/><rect x="521.07" width="3.98" fill="#ff0800"/><rect x="525.01" width="7.91" fill="#ff2800"/><rect x="532.87" width="7.91" fill="#ff1800"/><rect x="540.73" width="3.98" fill="#ff2800"/><rect x="544.66" width="11.84" fill="#ff1800"/><rect x="556.46" width="31.50" fill="#ff2800"/><rect x="587.91" width="7.91" fill="#ff3800"/><rect x="595.78" width="3.98" fill="#ff2800"/><rect x="599.71" width="11.85" fill="#ff3800"/><rect x="611.50" width="3.98" fill="#ff5800"/><rect x="615.43" width="2.02" fill="#ff4800"/></g>
<g transform="translate(0,332.27)"><rect x="381.50" width="17.74" fill="#00f7ff"/><rect x="399.19" width="3.98" fill="#18ffe7"/><rect x="403.12" width="3.98" fill="#28ffd7"/><rect x="407.06" width="3.98" fill="#58ffa7"/><rect x="410.99" width="3.98" fill="#87ff78"/><rect x="414.92" width="3.98" fill="#a7ff58"/><rect x="418.85" width="3.98" fill="#d7ff28"/><rect x="422.78" width="7.91" fill="#f7ff08"/><rect x="430.65" width="3.98" fill="#ffe700"/><rect x="434.58" width="3.98" fill="#ffb700"/><rect x="438.51" width="7.91" fill="#ff9700"/><rect x="446.37" width="7.91" fill="#ff7800"/><rect x="454.24" width="3.98" fill="#ff5800"/><rect x="458.17" width="11.84" fill="#ff4800"/><rect x="469.96" width="7.91" fill="#ff3800"/><rect x="477.83" width="11.85" fill="#ff2800"/><rect x="489.62" width="7.91" fill="#ff1800"/><rect x="497.48" width="3.98" fill="#ff0800"/><rect x="501.42" width="3.98" fill="#ff1800"/><rect x="505.35" width="7.91" fill="#ff0800"/><rect x="513.21" width="7.91" fill="#ff1800"/><rect x="521.07" width="3.98" fill="#ff0800"/><rect x="525.01" width="11.84" fill="#ff1800"/><rect x="536.80" width="7.91" fill="#ff0800"/><rect x="544.66" width="7.91" fill="#ff1800"/><rect x="552.53" width="7.91" fill="#ff0800"/><rect x="560.39" width="7.91" fill="#ff1800"/><rect x="568.25" width="15.78" fill="#ff0800"/><rect x="583.98" width="11.85" fill="#ff1800"/><rect x="595.78" width="11.84" fill="#ff2800"/><rect x="607.57" width="3.98" fill="#ff1800"/><rect x="611.50" width="5.95" fill="#ff2800"/></g>
<g transform="translate(0,340.88)"><rect x="381.50" width="9.88" fill="#00a7ff"/><rect x="391.33" width="3.98" fill="#00b7ff"/><rect x="395.26" width="3.98" fill="#00c7ff"/><rect x="399.19" width="3.98" fill="#08fff7"/><rect x="403.12" width="3.98" fill="#38ffc7"/><rect x="407.06" width="3.98" fill="#68ff97"/><rect x="410.99" width="3.98" fill="#97ff68"/><rect x="414.92" width="3.98" fill="#b7ff48"/><rect x="418.85" width="3.98" fill="#d7ff28"/><rect x="422.78" width="7.91" fill="#fff700"/><rect x="430.65" width="3.98" fill="#ffd700"/><rect x="434.58" width="3.98" fill="#ffb700"/><rect x="438.51" width="3.98" fill="#ff9700"/><rect x="442.44" width="3.98" fill="#ff8700"/><rect x="446.37" width="3.98" fill="#ff7800"/><rect x="450.30" width="3.98" fill="#ff6800"/><rect x="454.24" width="3.98" fill="#ff5800"/><rect x="458.17" width="3.98" fill="#ff4800"/><rect x="462.10" width="3.98" fill="#ff3800"/><rect x="466.03" width="11.84" fill="#ff2800"/><rect x="477.83" width="11.85" fill="#ff1800"/><rect x="489.62" width="11.85" fill="#ff0800"/><rect x="501.42" width="31.50" fill="#f70000"/><rect x="532.87" width="3.98" fill="#e70000"/><rect x="536.80" width="19.71" fill="#f70000"/><rect x="556.46" width="3.98" fill="#e70000"/><rect x="560.39" width="3.98" fill="#f70000"/><rect x="564.32" width="3.98" fill="#ff0800"/><rect x="568.25" width="3.98" fill="#f70000"/><rect x="572.19" width="3.98" fill="#ff0800"/><rect x="576.12" width="3.98" fill="#f70000"/><rect x="580.05" width="7.91" fill="#ff0800"/><rect x="587.91" width="3.98" fill="#ff1800"/><rect x="591.84" width="15.78" fill="#ff0800"/><rect x="607.57" width="7.91" fill="#ff1800"/><rect x="615.43" width="2.02" fill="#ff2800"/></g>
<g transform="translate(0,349.49)"><rect x="381.50" width="5.95" fill="#0000f7"/><rect x="387.40" width="3.98" fill="#0000e7"/><rect x="391.33" width="3.98" fill="#0058ff"/><rect x="395.26" width="3.98" fill="#00a7ff"/><rect x="399.19" width="3.98" fill="#00f7ff"/><rect x="403.12" width="3.98" fill="#18ffe7"/><rect x="407.06" width="3.98" fill="#58ffa7"/><rect x="410.99" width="3.98" fill="#97ff68"/><rect x="414.92" width="3.98" fill="#b7ff48"/><rect x="418.85" width="3.98" fill="#e7ff18"/><rect x="422.78" width="3.98" fill="#f7ff08"/><rect x="426.71" width="3.98" fill="#ffd700"/><rect x="430.65" width="3.98" fill="#ffb700"/><rect x="434.58" width="3.98" fill="#ffa700"/><rect x="438.51" width="3.98" fill="#ff8700"/><rect x="442.44" width="7.91" fill="#ff6800"/><rect x="450.30" width="3.98" fill="#ff5800"/><rect x="454.24" width="3.98" fill="#ff4800"/><rect x="458.17" width="3.98" fill="#ff3800"/><rect x="462.10" width="7.91" fill="#ff4800"/><rect x="469.96" width="7.91" fill="#ff2800"/><rect x="477.83" width="3.98" fill="#ff1800"/><rect x="481.76" width="3.98" fill="#ff0800"/><rect x="485.69" width="3.98" fill="#ff1800"/><rect x="489.62" width="15.78" fill="#ff0800"/><rect x="505.35" width="15.78" fill="#f70000"/><rect x="521.07" width="3.98" fill="#ff0800"/><rect x="525.01" width="3.98" fill="#f70000"/><rect x="528.94" width="7.91" fill="#e70000"/><rect x="536.80" width="3.98" fill="#d70000"/><rect x="540.73" width="3.98" fill="#e70000"/><rect x="544.66" width="3.98" fill="#f70000"/><rect x="548.60" width="3.98" fill="#e70000"/><rect x="552.53" width="11.84" fill="#f70000"/><rect x="564.32" width="39.37" fill="#ff0800"/><rect x="603.64" width="3.98" fill="#ff1800"/><rect x="607.57" width="3.98" fill="#ff0800"/><rect x="611.50" width="5.95" fill="#ff1800"/></g>
<g transform="translate(0,358.11)"><rect x="381.50" width="2.02" fill="#00a7ff"/><rect x="383.47" width="3.98" fill="#00b7ff"/><rect x="387.40" width="3.98" fill="#0097ff"/><rect x="391.33" width="3.98" fill="#00a7ff"/><rect x="395.26" width="3.98" fill="#00d7ff"/><rect x="399.19" width="3.98" fill="#00f7ff"/><rect x="403.12" width="3.98" fill="#18ffe7"/><rect x="407.06" width="3.98" fill="#78ff87"/><rect x="410.99" width="3.98" fill="#97ff68"/><rect x="414.92" width="3.98" fill="#b7ff48"/><rect x="418.85" width="3.98" fill="#d7ff28"/><rect x="422.78" width="3.98" fill="#f7ff08"/><rect x="426.71" width="3.98" fill="#ffe700"/><rect x="430.65" width="3.98" fill="#ffc700"/><rect x="434.58" width="3.98" fill="#ff9700"/><rect x="438.51" width="3.98" fill="#ff8700"/><rect x="442.44" width="3.98" fill="#ff7800"/><rect x="446.37" width="7.91" fill="#ff6800"/><rect x="454.24" width="3.98" fill="#ff5800"/><rect x="458.17" width="7.91" fill="#ff3800"/><rect x="466.03" width="7.91" fill="#ff2800"/><rect x="473.89" width="3.98" fill="#ff0800"/><rect x="477.83" width="7.91" fill="#ff1800"/><rect x="485.69" width="11.85" fill="#ff0800"/><rect x="497.48" width="3.98" fill="#ff1800"/><rect x="501.42" width="7.91" fill="#ff0800"/><rect x="509.28" width="3.98" fill="#f70000"/><rect x="513.21" width="3.98" fill="#ff0800"/><rect x="517.14" width="7.91" fill="#f70000"/><rect x="525.01" width="7.91" fill="#ff0800"/><rect x="532.87" width="15.78" fill="#f70000"/><rect x="548.60" width="3.98" fill="#ff0800"/><rect x="552.53" width="19.71" fill="#f70000"/><rect x="572.19" width="3.98" fill="#ff0800"/><rect x="576.12" width="3.98" fill="#f70000"/><rect x="580.05" width="3.98" fill="#ff1800"/><rect x="583.98" width="7.91" fill="#ff0800"/><rect x="591.84" width="3.98" fill="#f70000"/><rect x="595.78" width="15.78" fill="#ff0800"/><rect x="611.50" width="3.98" fill="#ff1800"/><rect x="615.43" width="2.02" fill="#ff2800"/></g>
<g transform="translate(0,366.72)"><rect x="381.50" width="2.02" fill="#00f7ff"/><rect x="383.47" width="7.91" fill="#08fff7"/><rect x="391.33" width="7.91" fill="#00f7ff"/><rect x="399.19" width="3.98" fill="#18ffe7"/><rect x="403.12" width="3.98" fill="#28ffd7"/><rect x="407.06" width="3.98" fill="#58ffa7"/><rect x="410.99" width="3.98" fill="#97ff68"/><rect x="414.92" width="3.98" fill="#b7ff48"/><rect x="418.85" width="3.98" fill="#d7ff28"/><rect x="422.78" width="3.98" fill="#fff700"/><rect x="426.71" width="3.98" fill="#ffe700"/><rect x="430.65" width="3.98" fill="#ffd700"/><rect x="434.58" width="3.98" fill="#ffb700"/><rect x="438.51" width="3.98" fill="#ffa700"/><rect x="442.44" width="3.98" fill="#ff8700"/><rect x="446.37" width="3.98" fill="#ff7800"/><rect x="450.30" width="3.98" fill="#ff6800"/><rect x="454.24" width="7.91" fill="#ff4800"/><rect x="462.10" width="3.98" fill="#ff3800"/><rect x="466.03" width="3.98" fill="#ff2800"/><rect x="469.96" width="3.98" fill="#ff3800"/><rect x="473.89" width="3.98" fill="#ff2800"/><rect x="477.83" width="39.37" fill="#ff1800"/><rect x="517.14" width="3.98" fill="#ff2800"/><rect x="521.07" width="11.84" fill="#ff1800"/><rect x="532.87" width="3.98" fill="#ff0800"/><rect x="536.80" width="15.78" fill="#ff1800"/><rect x="552.53" width="3.98" fill="#ff0800"/><rect x="556.46" width="3.98" fill="#ff1800"/><rect x="560.39" width="3.98" fill="#ff0800"/><rect x="564.32" width="23.64" fill="#ff1800"/><rect x="587.91" width="7.91" fill="#ff2800"/><rect x="595.78" width="3.98" fill="#ff1800"/><rect x="599.71" width="7.91" fill="#ff2800"/><rect x="607.57" width="3.98" fill="#ff1800"/><rect x="611.50" width="5.95" fill="#ff2800"/></g>
<g transform="translate(0,375.33)"><rect x="381.50" width="2.02" fill="#48ffb7"/><rect x="383.47" width="3.98" fill="#58ffa7"/><rect x="387.40" width="7.91" fill="#78ff87"/><rect x="395.26" width="3.98" fill="#87ff78"/><rect x="399.19" width="3.98" fill="#97ff68"/><rect x="403.12" width="3.98" fill="#a7ff58"/><rect x="407.06" width="3.98" fill="#b7ff48"/><rect x="410.99" width="3.98" fill="#c7ff38"/><rect x="414.92" width="7.91" fill="#e7ff18"/><rect x="422.78" width="3.98" fill="#fff700"/><rect x="426.71" width="3.98" fill="#ffe700"/><rect x="430.65" width="3.98" fill="#ffc700"/><rect x="434.58" width="3.98" fill="#ffb700"/><rect x="438.51" width="7.91" fill="#ff9700"/><rect x="446.37" width="3.98" fill="#ff8700"/><rect x="450.30" width="7.91" fill="#ff7800"/><rect x="458.17" width="7.91" fill="#ff6800"/><rect x="466.03" width="7.91" fill="#ff5800"/><rect x="473.89" width="11.85" fill="#ff3800"/><rect x="485.69" width="7.91" fill="#ff2800"/><rect x="493.55" width="3.98" fill="#ff3800"/><rect x="497.48" width="3.98" fill="#ff2800"/><rect x="501.42" width="3.98" fill="#ff3800"/><rect x="505.35" width="3.98" fill="#ff4800"/><rect x="509.28" width="23.64" fill="#ff3800"/><rect x="532.87" width="23.64" fill="#ff2800"/><rect x="556.46" width="3.98" fill="#ff3800"/><rect x="560.39" width="3.98" fill="#ff2800"/><rect x="564.32" width="31.50" fill="#ff3800"/><rect x="595.78" width="3.98" fill="#ff5800"/><rect x="599.71" width="3.98" fill="#ff4800"/><rect x="603.64" width="3.98" fill="#ff5800"/><rect x="607.57" width="3.98" fill="#ff6800"/><rect x="611.50" width="5.95" fill="#ff5800"/></g>
<g transform="translate(0,383.94)"><rect x="381.50" width="2.02" fill="#58ffa7"/><rect x="383.47" width="3.98" fill="#68ff97"/><rect x="387.40" width="3.98" fill="#87ff78"/><rect x="391.33" width="3.98" fill="#97ff68"/><rect x="395.26" width="3.98" fill="#b7ff48"/><rect x="399.19" width="3.98" fill="#c7ff38"/><rect x="403.12" width="7.91" fill="#d7ff28"/><rect x="410.99" width="3.98" fill="#e7ff18"/><rect x="414.92" width="3.98" fill="#f7ff08"/><rect x="418.85" width="3.98" fill="#fff700"/><rect x="422.78" width="3.98" fill="#ffe700"/><rect x="426.71" width="3.98" fill="#ffc700"/><rect x="430.65" width="3.98" fill="#ffb700"/><rect x="434.58" width="7.91" fill="#ff9700"/><rect x="442.44" width="3.98" fill="#ff8700"/><rect x="446.37" width="7.91" fill="#ff7800"/><rect x="454.24" width="15.78" fill="#ff6800"/><rect x="469.96" width="7.91" fill="#ff5800"/><rect x="477.83" width="15.78" fill="#ff4800"/><rect x="493.55" width="7.91" fill="#ff5800"/><rect x="501.42" width="3.98" fill="#ff4800"/><rect x="505.35" width="7.91" fill="#ff5800"/><rect x="513.21" width="3.98" fill="#ff6800"/><rect x="517.14" width="3.98" fill="#ff5800"/><rect x="521.07" width="7.91" fill="#ff6800"/><rect x="528.94" width="7.91" fill="#ff5800"/><rect x="536.80" width="3.98" fill="#ff6800"/><rect x="540.73" width="3.98" fill="#ff4800"/><rect x="544.66" width="3.98" fill="#ff5800"/><rect x="548.60" width="23.64" fill="#ff4800"/><rect x="572.19" width="3.98" fill="#ff3800"/><rect x="576.12" width="7.91" fill="#ff4800"/><rect x="583.98" width="3.98" fill="#ff5800"/><rect x="587.91" width="3.98" fill="#ff4800"/><rect x="591.84" width="3.98" fill="#ff6800"/><rect x="595.78" width="3.98" fill="#ff7800"/><rect x="599.71" width="3.98" fill="#ff9700"/><rect x="603.64" width="3.98" fill="#ffa700"/><rect x="607.57" width="3.98" fill="#ffb700"/><rect x="611.50" width="5.95" fill="#ffa700"/></g>
<g transform="translate(0,392.55)"><rect x="381.50" width="2.02" fill="#68ff97"/><rect x="383.47" width="3.98" fill="#78ff87"/><rect x="387.40" width="3.98" fill="#87ff78"/><rect x="391.33" width="3.98" fill="#a7ff58"/><rect x="395.26" width="3.98" fill="#b7ff48"/><rect x="399.19" width="3.98" fill="#c7ff38"/><rect x="403.12" width="3.98" fill="#e7ff18"/><rect x="407.06" width="3.98" fill="#f7ff08"/><rect x="410.99" width="3.98" fill="#fff700"/><rect x="414.92" width="3.98" fill="#ffe700"/><rect x="418.85" width="3.98" fill="#ffd700"/><rect x="422.78" width="7.91" fill="#ffc700"/><rect x="430.65" width="3.98" fill="#ffb700"/><rect x="434.58" width="3.98" fill="#ffa700"/><rect x="438.51" width="7.91" fill="#ff9700"/><rect x="446.37" width="11.85" fill="#ff8700"/><rect x="458.17" width="7.91" fill="#ff7800"/><rect x="466.03" width="11.84" fill="#ff6800"/><rect x="477.83" width="7.91" fill="#ff5800"/><rect x="485.69" width="7.91" fill="#ff6800"/><rect x="493.55" width="3.98" fill="#ff7800"/><rect x="497.48" width="7.91" fill="#ff6800"/><rect x="505.35" width="7.91" fill="#ff7800"/><rect x="513.21" width="11.85" fill="#ff8700"/><rect x="525.01" width="3.98" fill="#ff9700"/><rect x="528.94" width="3.98" fill="#ff8700"/><rect x="532.87" width="7.91" fill="#ff9700"/><rect x="540.73" width="3.98" fill="#ff8700"/><rect x="544.66" width="7.91" fill="#ff7800"/><rect x="552.53" width="3.98" fill="#ff5800"/><rect x="556.46" width="3.98" fill="#ff6800"/><rect x="560.39" width="7.91" fill="#ff5800"/><rect x="568.25" width="11.85" fill="#ff4800"/><rect x="580.05" width="3.98" fill="#ff5800"/><rect x="583.98" width="3.98" fill="#ff4800"/><rect x="587.91" width="11.84" fill="#ff5800"/><rect x="599.71" width="3.98" fill="#ff7800"/><rect x="603.64" width="11.85" fill="#ff9700"/><rect x="615.43" width="2.02" fill="#ffa700"/></g>
<g transform="translate(0,401.16)"><rect x="381.50" width="2.02" fill="#78ff87"/><rect x="383.47" width="3.98" fill="#87ff78"/><rect x="387.40" width="3.98" fill="#a7ff58"/><rect x="391.33" width="7.91" fill="#b7ff48"/><rect x="399.19" width="7.91" fill="#d7ff28"/><rect x="407.06" width="7.91" fill="#fff700"/><rect x="414.92" width="3.98" fill="#ffe700"/><rect x="418.85" width="7.91" fill="#ffd700"/><rect x="426.71" width="3.98" fill="#ffc700"/><rect x="430.65" width="3.98" fill="#ffb700"/><rect x="434.58" width="11.85" fill="#ffa700"/><rect x="446.37" width="3.98" fill="#ff9700"/><rect x="450.30" width="7.91" fill="#ff8700"/><rect x="458.17" width="11.84" fill="#ff7800"/><rect x="469.96" width="3.98" fill="#ff6800"/><rect x="473.89" width="3.98" fill="#ff7800"/><rect x="477.83" width="7.91" fill="#ff5800"/><rect x="485.69" width="7.91" fill="#ff6800"/><rect x="493.55" width="7.91" fill="#ff7800"/><rect x="501.42" width="3.98" fill="#ff8700"/><rect x="505.35" width="3.98" fill="#ff7800"/><rect x="509.28" width="7.91" fill="#ff8700"/><rect x="517.14" width="15.78" fill="#ff9700"/><rect x="532.87" width="3.98" fill="#ff8700"/><rect x="536.80" width="3.98" fill="#ff9700"/><rect x="540.73" width="11.85" fill="#ff8700"/><rect x="552.53" width="7.91" fill="#ff7800"/><rect x="560.39" width="3.98" fill="#ff6800"/><rect x="564.32" width="3.98" fill="#ff7800"/><rect x="568.25" width="3.98" fill="#ff6800"/><rect x="572.19" width="7.91" fill="#ff5800"/><rect x="580.05" width="3.98" fill="#ff6800"/><rect x="583.98" width="19.71" fill="#ff5800"/><rect x="603.64" width="3.98" fill="#ff6800"/><rect x="607.57" width="7.91" fill="#ff7800"/><rect x="615.43" width="2.02" fill="#ff9700"/></g>
<g transform="translate(0,409.77)"><rect x="381.50" width="2.02" fill="#97ff68"/><rect x="383.47" width="7.91" fill="#a7ff58"/><rect x="391.33" width="3.98" fill="#b7ff48"/><rect x="395.26" width="3.98" fill="#d7ff28"/><rect x="399.19" width="3.98" fill="#c7ff38"/><rect x="403.12" width="3.98" fill="#d7ff28"/><rect x="407.06" width="3.98" fill="#e7ff18"/><rect x="410.99" width="11.85" fill="#f7ff08"/><rect x="422.78" width="7.91" fill="#ffe700"/><rect x="430.65" width="3.98" fill="#ffd700"/><rect x="434.58" width="3.98" fill="#ffc700"/><rect x="438.51" width="7.91" fill="#ffb700"/><rect x="446.37" width="3.98" fill="#ffa700"/><rect x="450.30" width="3.98" fill="#ff9700"/><rect x="454.24" width="11.85" fill="#ff8700"/><rect x="466.03" width="27.57" fill="#ff7800"/><rect x="493.55" width="7.91" fill="#ff8700"/><rect x="501.42" width="3.98" fill="#ff9700"/><rect x="505.35" width="3.98" fill="#ff8700"/><rect x="509.28" width="7.91" fill="#ff9700"/><rect x="517.14" width="15.78" fill="#ffa700"/><rect x="532.87" width="7.91" fill="#ffb700"/><rect x="540.73" width="15.78" fill="#ffa700"/><rect x="556.46" width="7.91" fill="#ff9700"/><rect x="564.32" width="7.91" fill="#ff8700"/><rect x="572.19" width="3.98" fill="#ff7800"/><rect x="576.12" width="3.98" fill="#ff8700"/><rect x="580.05" width="11.84" fill="#ff7800"/><rect x="591.84" width="7.91" fill="#ff6800"/><rect x="599.71" width="3.98" fill="#ff7800"/><rect x="603.64" width="7.91" fill="#ff6800"/><rect x="611.50" width="5.95" fill="#ff7800"/></g>
<g transform="translate(0,418.38)"><rect x="381.50" width="5.95" fill="#a7ff58"/><rect x="387.40" width="3.98" fill="#b7ff48"/><rect x="391.33" width="7.91" fill="#c7ff38"/><rect x="399.19" width="7.91" fill="#d7ff28"/><rect x="407.06" width="7.91" fill="#e7ff18"/><rect x="414.92" width="3.98" fill="#f7ff08"/><rect x="418.85" width="3.98" fill="#e7ff18"/><rect x="422.78" width="7.91" fill="#fff700"/><rect x="430.65" width="3.98" fill="#f7ff08"/><rect x="434.58" width="7.91" fill="#ffe700"/><rect x="442.44" width="3.98" fill="#ffd700"/><rect x="446.37" width="3.98" fill="#ffc700"/><rect x="450.30" width="3.98" fill="#ffa700"/><rect x="454.24" width="11.85" fill="#ff9700"/><rect x="466.03" width="3.98" fill="#ff8700"/><rect x="469.96" width="3.98" fill="#ff7800"/><rect x="473.89" width="3.98" fill="#ff8700"/><rect x="477.83" width="7.91" fill="#ff7800"/><rect x="485.69" width="3.98" fill="#ff8700"/><rect x="489.62" width="3.98" fill="#ff9700"/><rect x="493.55" width="3.98" fill="#ff8700"/><rect x="497.48" width="11.85" fill="#ff9700"/><rect x="509.28" width="3.98" fill="#ffa700"/><rect x="513.21" width="3.98" fill="#ff9700"/><rect x="517.14" width="7.91" fill="#ffa700"/><rect x="525.01" width="27.57" fill="#ffb700"/><rect x="552.53" width="23.64" fill="#ffa700"/><rect x="576.12" width="3.98" fill="#ff9700"/><rect x="580.05" width="7.91" fill="#ff8700"/><rect x="587.91" width="3.98" fill="#ff9700"/><rect x="591.84" width="19.71" fill="#ff8700"/><rect x="611.50" width="3.98" fill="#ff9700"/><rect x="615.43" width="2.02" fill="#ff8700"/></g>
<g transform="translate(0,426.99)"><rect x="381.50" width="5.95" fill="#a7ff58"/><rect x="387.40" width="3.98" fill="#b7ff48"/><rect x="391.33" width="11.85" fill="#c7ff38"/><rect x="403.12" width="3.98" fill="#d7ff28"/><rect x="407.06" width="15.78" fill="#e7ff18"/><rect x="422.78" width="7.91" fill="#f7ff08"/><rect x="430.65" width="3.98" fill="#fff700"/><rect x="434.58" width="15.78" fill="#f7ff08"/><rect x="450.30" width="3.98" fill="#ffe700"/><rect x="454.24" width="3.98" fill="#fff700"/><rect x="458.17" width="3.98" fill="#ffd700"/><rect x="462.10" width="3.98" fill="#ffb700"/><rect x="466.03" width="11.84" fill="#ffa700"/><rect x="477.83" width="3.98" fill="#ff9700"/><rect x="481.76" width="3.98" fill="#ff8700"/><rect x="485.69" width="3.98" fill="#ffa700"/><rect x="489.62" width="3.98" fill="#ff9700"/><rect x="493.55" width="3.98" fill="#ffa700"/><rect x="497.48" width="3.98" fill="#ff9700"/><rect x="501.42" width="7.91" fill="#ffa700"/><rect x="509.28" width="15.78" fill="#ffb700"/><rect x="525.01" width="11.84" fill="#ffc700"/><rect x="536.80" width="3.98" fill="#ffd700"/><rect x="540.73" width="11.85" fill="#ffc700"/><rect x="552.53" width="3.98" fill="#ffd700"/><rect x="556.46" width="7.91" fill="#ffc700"/><rect x="564.32" width="3.98" fill="#ffb700"/><rect x="568.25" width="3.98" fill="#ffc700"/><rect x="572.19" width="3.98" fill="#ffb700"/><rect x="576.12" width="3.98" fill="#ffc700"/><rect x="580.05" width="7.91" fill="#ffb700"/><rect x="587.91" width="3.98" fill="#ffa700"/><rect x="591.84" width="3.98" fill="#ffb700"/><rect x="595.78" width="11.84" fill="#ffa700"/><rect x="607.57" width="3.98" fill="#ffb700"/><rect x="611.50" width="5.95" fill="#ffa700"/></g></g>
<rect x="381.50" y="272.00" width="235.90" height="163.60" fill="none" stroke="#262626" stroke-width="1"/>
<path d="M460.13 435.60v-2.70M460.13 272.00v2.70M538.77 435.60v-2.70M538.77 272.00v2.70M381.50 284.92h2.70M617.40 284.92h-2.70M381.50 319.36h2.70M617.40 319.36h-2.70M381.50 353.80h2.70M617.40 353.80h-2.70M381.50 388.24h2.70M617.40 388.24h-2.70M381.50 422.68h2.70M617.40 422.68h-2.70" stroke="#1c1c1c" stroke-width="1.15" fill="none"/>
<text x="381.50" y="456.40" text-anchor="middle" font-size="16">700</text>
<text x="460.13" y="456.40" text-anchor="middle" font-size="16">800</text>
<text x="538.77" y="456.40" text-anchor="middle" font-size="16">900</text>
<text x="617.40" y="456.40" text-anchor="middle" font-size="16">1000</text>
<text x="376.30" y="290.82" text-anchor="end" font-size="16">40</text>
<text x="376.30" y="325.26" text-anchor="end" font-size="16">20</text>
<text x="376.30" y="359.70" text-anchor="end" font-size="16">0</text>
<text x="376.30" y="394.14" text-anchor="end" font-size="16">-20</text>
<text x="376.30" y="428.58" text-anchor="end" font-size="16">-40</text>
<text x="499.45" y="475.10" text-anchor="middle" font-size="16.5">wavelength [nm]</text>
<text transform="translate(347.90,354.30) rotate(-90)" text-anchor="middle" font-size="16.5"><tspan font-style="italic">θ</tspan> [°]</text>
<text x="499.05" y="259.70" text-anchor="middle" font-size="16.5">Au-Ag-NHA: T<tspan font-size="13.3" dy="9.4">RCP</tspan></text>
<text x="341.70" y="262.30" font-size="15" font-weight="bold">d</text>
<defs><linearGradient id="cb" x1="0" y1="1" x2="0" y2="0">
<stop offset="0.0000" stop-color="#000080"/>
<stop offset="0.0312" stop-color="#00009f"/>
<stop offset="0.0625" stop-color="#0000bf"/>
<stop offset="0.0938" stop-color="#0000df"/>
<stop offset="0.1250" stop-color="#00f"/>
<stop offset="0.1562" stop-color="#0020ff"/>
<stop offset="0.1875" stop-color="#0040ff"/>
<stop offset="0.2188" stop-color="#0060ff"/>
<stop offset="0.2500" stop-color="#0080ff"/>
<stop offset="0.2812" stop-color="#009fff"/>
<stop offset="0.3125" stop-color="#00bfff"/>
<stop offset="0.3438" stop-color="#00dfff"/>
<stop offset="0.3750" stop-color="#0ff"/>
<stop offset="0.4062" stop-color="#20ffdf"/>
<stop offset="0.4375" stop-color="#40ffbf"/>
<stop offset="0.4688" stop-color="#60ff9f"/>
<stop offset="0.5000" stop-color="#80ff80"/>
<stop offset="0.5312" stop-color="#9fff60"/>
<stop offset="0.5625" stop-color="#bfff40"/>
<stop offset="0.5938" stop-color="#dfff20"/>
<stop offset="0.6250" stop-color="#ff0"/>
<stop offset="0.6562" stop-color="#ffdf00"/>
<stop offset="0.6875" stop-color="#ffbf00"/>
<stop offset="0.7188" stop-color="#ff9f00"/>
<stop offset="0.7500" stop-color="#ff8000"/>
<stop offset="0.7812" stop-color="#ff6000"/>
<stop offset="0.8125" stop-color="#ff4000"/>
<stop offset="0.8438" stop-color="#ff2000"/>
<stop offset="0.8750" stop-color="#f00"/>
<stop offset="0.9062" stop-color="#df0000"/>
<stop offset="0.9375" stop-color="#bf0000"/>
<stop offset="0.9688" stop-color="#9f0000"/>
<stop offset="1.0000" stop-color="#800000"/>
</linearGradient></defs>
<rect x="648.20" y="165.60" width="9.70" height="140.20" fill="url(#cb)" stroke="#262626" stroke-width="0.8"/>
<text x="662.0" y="171.2" font-size="16">0.8</text>
<text x="662.0" y="312.7" font-size="16">0.2</text>
</svg>
</body></html>
